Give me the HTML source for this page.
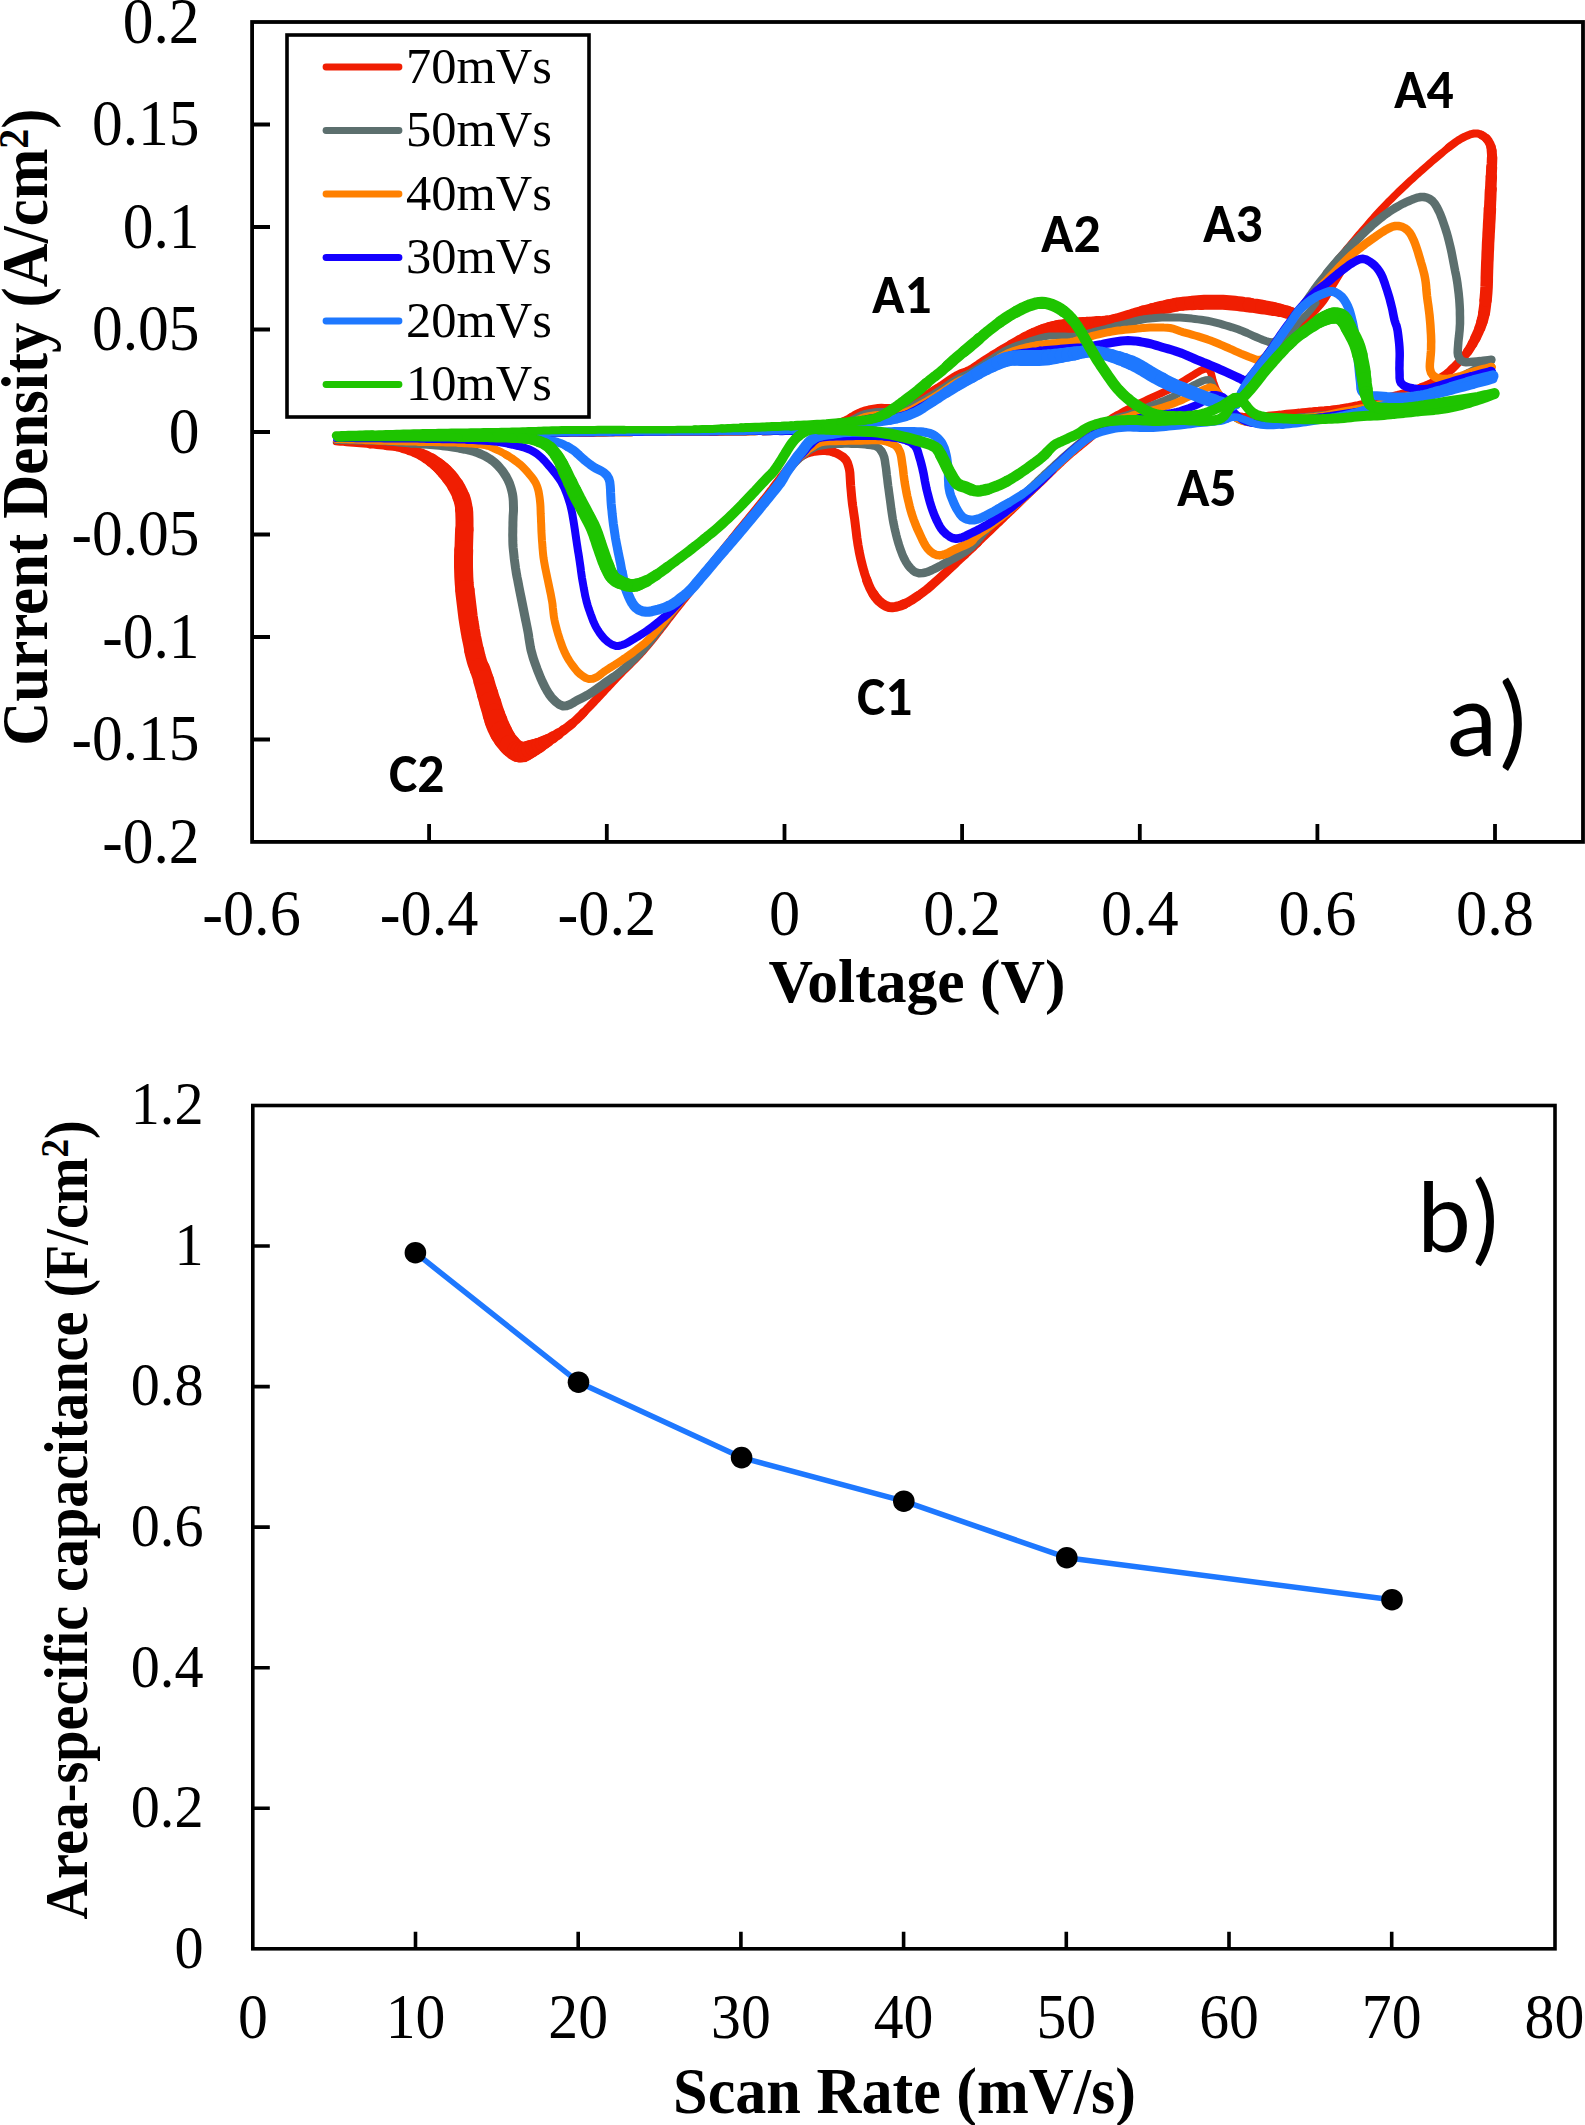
<!DOCTYPE html>
<html><head><meta charset="utf-8"><title>CV curves and capacitance</title>
<style>html,body{margin:0;padding:0;background:#fff;}svg{display:block;}</style>
</head><body>
<svg xmlns="http://www.w3.org/2000/svg" width="1585" height="2125" viewBox="0 0 1585 2125">
<rect width="1585" height="2125" fill="#fff"/>
<g fill="none" stroke-linecap="round" stroke-linejoin="round">
<path d="M336.0,440.0 L337.6,440.0 L339.4,439.9 L341.4,439.9 L343.6,439.8 L346.0,439.8 L348.5,439.7 L351.2,439.7 L354.0,439.6 L356.9,439.5 L360.0,439.5 L363.1,439.4 L366.3,439.3 L369.6,439.3 L373.0,439.2" stroke="#F01E02" stroke-width="6.0"/>
<path d="M373.0,439.2 L376.4,439.1 L379.9,439.0 L383.4,439.0 L386.9,438.9 L390.4,438.8 L393.8,438.7 L397.3,438.6 L400.7,438.5 L404.1,438.4 L407.5,438.4 L410.7,438.3 L413.9,438.2 L417.0,438.1 L420.0,438.0 L423.1,437.9 L426.1,437.8 L429.0,437.7 L431.8,437.6 L434.6,437.5 L437.3,437.3 L440.0,437.2 L442.6,437.1 L445.2,437.0 L447.9,436.9 L450.5,436.7 L453.2,436.6 L455.9,436.5" stroke="#F01E02" stroke-width="5.5"/>
<path d="M455.9,436.5 L458.6,436.3 L461.4,436.2 L464.3,436.1 L467.3,436.0 L470.4,435.8 L473.5,435.7 L476.8,435.6 L480.3,435.5 L483.9,435.4 L487.6,435.3 L491.6,435.2 L495.7,435.1 L500.0,435.0 L502.3,435.0 L504.7,434.9 L507.2,434.9 L509.8,434.8 L512.4,434.8 L515.1,434.7 L517.8,434.7 L520.6,434.7 L523.4,434.6 L526.3,434.6 L529.3,434.6 L532.2,434.5 L535.3,434.5 L538.3,434.4 L541.4,434.4 L544.6,434.4 L547.7,434.3 L550.9,434.3 L554.1,434.3 L557.4,434.3 L560.6,434.2 L563.9,434.2 L567.2,434.2 L570.5,434.1 L573.8,434.1 L577.1,434.1 L580.4,434.1 L583.7,434.0 L587.0,434.0 L590.2,434.0 L593.5,433.9 L596.8,433.9 L600.0,433.9 L603.3,433.9 L606.5,433.8 L609.7,433.8 L612.8,433.8 L615.9,433.8 L619.0,433.7 L622.1,433.7 L625.1,433.7 L628.1,433.7 L631.0,433.7 L633.9,433.6 L636.7,433.6 L639.5,433.6 L642.2,433.6 L644.9,433.5 L647.5,433.5 L650.0,433.5 L653.8,433.5 L657.5,433.4 L661.2,433.4 L664.8,433.4 L668.4,433.4 L671.9,433.4 L675.4,433.3 L678.8,433.3 L682.2,433.3 L685.6,433.3 L688.9,433.3 L692.1,433.3 L695.4,433.3 L698.5,433.3 L701.7,433.2 L704.7,433.2 L707.8,433.2 L710.7,433.2 L713.7,433.2 L716.6,433.2 L719.4,433.2 L722.2,433.2 L725.0,433.1 L727.7,433.1 L730.3,433.1 L733.0,433.1 L735.5,433.0 L738.1,433.0 L740.5,433.0 L743.0,432.9 L745.4,432.9 L747.7,432.9 L750.0,432.8 L754.5,432.7 L758.8,432.6 L762.8,432.4" stroke="#F01E02" stroke-width="5.0"/>
<path d="M762.8,432.4 L766.6,432.3 L770.2,432.2 L773.5,432.0 L776.7,431.8 L779.7,431.7" stroke="#F01E02" stroke-width="5.5"/>
<path d="M779.7,431.7 L782.5,431.5 L785.3,431.3 L787.9,431.1 L790.4,430.9 L792.9,430.7" stroke="#F01E02" stroke-width="6.0"/>
<path d="M792.9,430.7 L795.3,430.5 L797.7,430.2 L800.0,430.0 L804.4,429.5 L808.2,428.9 L811.5,428.2 L814.5,427.6" stroke="#F01E02" stroke-width="6.5"/>
<path d="M814.5,427.6 L817.2,426.9 L819.8,426.2 L822.4,425.6 L825.0,425.0 L828.4,424.3 L831.5,423.8 L834.4,423.3" stroke="#F01E02" stroke-width="7.0"/>
<path d="M834.4,423.3 L837.2,422.7 L840.0,422.0 L843.0,421.0 L845.7,419.9 L848.4,418.5 L851.2,417.0" stroke="#F01E02" stroke-width="7.5"/>
<path d="M851.2,417.0 L854.0,415.4 L856.8,413.9 L859.4,412.6 L862.0,411.5 L865.4,410.4 L868.8,409.5 L872.0,408.9 L875.0,408.4 L878.0,408.0 L881.4,407.8 L884.6,408.0 L887.7,408.1 L891.0,408.0 L893.9,407.6 L897.0,407.2 L900.0,406.6 L903.1,405.8 L906.0,405.0 L909.2,403.8 L912.2,402.5 L915.4,401.0 L919.0,399.0 L921.4,397.7 L924.0,396.1 L926.7,394.5 L929.5,392.8 L932.4,391.0 L935.2,389.2 L938.0,387.5 L940.8,385.7 L943.6,383.8 L946.5,381.8 L949.3,379.9 L952.0,378.1 L954.6,376.4 L957.0,375.0 L960.5,373.3 L963.5,372.2 L966.5,371.2 L970.0,369.5 L972.4,368.1 L975.0,366.4 L977.7,364.6 L980.5,362.6 L983.4,360.7 L986.2,358.8 L989.0,357.0 L991.7,355.3 L994.4,353.7 L997.1,352.1 L999.9,350.6" stroke="#F01E02" stroke-width="8.0"/>
<path d="M999.9,350.6 L1002.6,349.0 L1005.3,347.5 L1008.0,346.0 L1010.7,344.5" stroke="#F01E02" stroke-width="8.5"/>
<path d="M1010.7,344.5 L1013.4,343.0 L1016.1,341.5 L1018.9,340.0" stroke="#F01E02" stroke-width="9.0"/>
<path d="M1018.9,340.0 L1021.6,338.6 L1024.3,337.3" stroke="#F01E02" stroke-width="9.5"/>
<path d="M1024.3,337.3 L1027.0,336.0 L1030.2,334.6" stroke="#F01E02" stroke-width="10.0"/>
<path d="M1030.2,334.6 L1033.4,333.3" stroke="#F01E02" stroke-width="10.5"/>
<path d="M1033.4,333.3 L1036.7,332.0 L1039.9,330.9" stroke="#F01E02" stroke-width="11.0"/>
<path d="M1039.9,330.9 L1043.0,329.9" stroke="#F01E02" stroke-width="11.5"/>
<path d="M1043.0,329.9 L1046.0,329.0 L1049.4,328.2" stroke="#F01E02" stroke-width="12.0"/>
<path d="M1049.4,328.2 L1052.7,327.6" stroke="#F01E02" stroke-width="12.5"/>
<path d="M1052.7,327.6 L1055.8,327.2" stroke="#F01E02" stroke-width="13.0"/>
<path d="M1055.8,327.2 L1058.9,326.8" stroke="#F01E02" stroke-width="13.5"/>
<path d="M1058.9,326.8 L1062.0,326.5 L1065.0,326.2" stroke="#F01E02" stroke-width="14.0"/>
<path d="M1065.0,326.2 L1068.0,326.0" stroke="#F01E02" stroke-width="14.5"/>
<path d="M1068.0,326.0 L1071.0,325.9" stroke="#F01E02" stroke-width="15.0"/>
<path d="M1071.0,325.9 L1074.0,325.7" stroke="#F01E02" stroke-width="15.5"/>
<path d="M1074.0,325.7 L1077.0,325.5 L1080.1,325.2" stroke="#F01E02" stroke-width="16.0"/>
<path d="M1080.1,325.2 L1083.3,324.8" stroke="#F01E02" stroke-width="15.5"/>
<path d="M1083.3,324.8 L1086.6,324.3" stroke="#F01E02" stroke-width="15.0"/>
<path d="M1086.6,324.3 L1089.8,323.9" stroke="#F01E02" stroke-width="14.5"/>
<path d="M1089.8,323.9 L1093.0,323.5 L1096.2,323.1" stroke="#F01E02" stroke-width="14.0"/>
<path d="M1096.2,323.1 L1099.4,322.8" stroke="#F01E02" stroke-width="13.5"/>
<path d="M1099.4,322.8 L1102.6,322.5 L1105.8,322.1" stroke="#F01E02" stroke-width="13.0"/>
<path d="M1105.8,322.1 L1109.0,321.5 L1112.2,320.8 L1115.4,319.9" stroke="#F01E02" stroke-width="12.5"/>
<path d="M1115.4,319.9 L1118.7,318.9 L1121.9,317.9 L1125.0,317.0 L1128.1,316.1 L1131.1,315.2 L1134.0,314.2 L1137.0,313.3 L1140.0,312.5 L1143.0,311.7" stroke="#F01E02" stroke-width="12.0"/>
<path d="M1143.0,311.7 L1146.0,311.0 L1149.0,310.3 L1152.0,309.7" stroke="#F01E02" stroke-width="12.5"/>
<path d="M1152.0,309.7 L1155.0,309.0 L1158.1,308.4" stroke="#F01E02" stroke-width="13.0"/>
<path d="M1158.1,308.4 L1161.2,307.7 L1164.4,307.1 L1167.3,306.5" stroke="#F01E02" stroke-width="13.5"/>
<path d="M1167.3,306.5 L1170.0,306.0 L1173.5,305.2 L1176.5,304.6" stroke="#F01E02" stroke-width="14.0"/>
<path d="M1176.5,304.6 L1180.0,304.0 L1182.7,303.7" stroke="#F01E02" stroke-width="13.5"/>
<path d="M1182.7,303.7 L1185.6,303.4 L1188.7,303.2 L1191.9,303.0" stroke="#F01E02" stroke-width="14.0"/>
<path d="M1191.9,303.0 L1195.0,302.8 L1198.1,302.6 L1201.2,302.5" stroke="#F01E02" stroke-width="14.5"/>
<path d="M1201.2,302.5 L1204.3,302.3 L1207.5,302.3 L1210.6,302.2 L1213.7,302.2 L1216.8,302.2 L1219.9,302.3 L1222.9,302.3 L1226.0,302.5 L1229.0,302.7 L1232.0,303.0 L1235.0,303.3 L1238.0,303.6 L1241.0,304.0 L1244.0,304.4 L1247.0,304.7 L1250.0,305.1" stroke="#F01E02" stroke-width="15.0"/>
<path d="M1250.0,305.1 L1253.0,305.6 L1256.0,306.0 L1259.0,306.5 L1262.1,307.0" stroke="#F01E02" stroke-width="14.5"/>
<path d="M1262.1,307.0 L1265.2,307.5 L1268.2,308.0 L1271.0,308.5 L1274.2,309.1" stroke="#F01E02" stroke-width="14.0"/>
<path d="M1274.2,309.1 L1277.2,309.7 L1280.1,310.3" stroke="#F01E02" stroke-width="13.5"/>
<path d="M1280.1,310.3 L1283.0,311.0 L1287.1,312.1" stroke="#F01E02" stroke-width="13.0"/>
<path d="M1287.1,312.1 L1291.2,313.2" stroke="#F01E02" stroke-width="12.5"/>
<path d="M1291.2,313.2 L1294.0,314.0" stroke="#F01E02" stroke-width="12.0"/>
<path d="M1252.0,388.0 C1255.0,383.7 1263.7,370.3 1270.0,362.0 C1276.3,353.7 1284.5,344.5 1290.0,338.0 C1295.5,331.5 1299.2,327.3 1303.0,323.0 C1306.8,318.7 1309.7,315.8 1313.0,312.0 C1316.3,308.2 1320.0,304.7 1323.0,300.5 C1326.0,296.3 1328.2,291.8 1331.0,287.0 C1333.8,282.2 1337.2,276.5 1340.0,272.0 C1342.8,267.5 1346.7,262.0 1348.0,260.0" stroke="#F01E02" stroke-width="9"/>
<path d="M1270.0,360.0 C1272.0,357.3 1278.2,349.0 1282.0,344.0 C1285.8,339.0 1289.8,333.8 1292.8,330.0 C1295.8,326.2 1297.5,323.8 1300.0,321.0 C1302.5,318.2 1305.3,316.0 1308.0,313.0 C1310.7,310.0 1314.7,304.7 1316.0,303.0" stroke="#5C6F6E" stroke-width="7"/>
<path d="M336.0,442.0 L337.9,442.2 L340.3,442.4 L343.3,442.6 L346.6,442.9 L350.0,443.2 L353.5,443.5 L356.9,443.7 L360.0,444.0 L363.4,444.3 L366.8,444.6 L370.2,444.9" stroke="#F01E02" stroke-width="6.5"/>
<path d="M370.2,444.9 L373.6,445.1 L376.9,445.4 L380.0,445.7 L383.0,446.0 L386.8,446.4" stroke="#F01E02" stroke-width="7.0"/>
<path d="M386.8,446.4 L390.2,446.7 L393.4,447.0 L396.6,447.4" stroke="#F01E02" stroke-width="7.5"/>
<path d="M396.6,447.4 L400.0,448.0 L403.0,448.6" stroke="#F01E02" stroke-width="8.0"/>
<path d="M403.0,448.6 L406.0,449.3 L409.1,450.1" stroke="#F01E02" stroke-width="9.0"/>
<path d="M409.1,450.1 L412.1,450.9 L415.1,451.9" stroke="#F01E02" stroke-width="10.0"/>
<path d="M415.1,451.9 L418.0,453.0 L420.8,454.2" stroke="#F01E02" stroke-width="11.0"/>
<path d="M420.8,454.2 L423.6,455.6 L426.3,457.1" stroke="#F01E02" stroke-width="12.0"/>
<path d="M426.3,457.1 L429.0,458.6 L431.5,460.3" stroke="#F01E02" stroke-width="13.0"/>
<path d="M431.5,460.3 L434.0,462.0 L436.8,464.2" stroke="#F01E02" stroke-width="14.0"/>
<path d="M436.8,464.2 L439.6,466.5" stroke="#F01E02" stroke-width="14.5"/>
<path d="M439.6,466.5 L442.2,468.9" stroke="#F01E02" stroke-width="15.0"/>
<path d="M442.2,468.9 L444.6,471.4" stroke="#F01E02" stroke-width="15.5"/>
<path d="M444.6,471.4 L447.0,474.0 L449.3,476.7" stroke="#F01E02" stroke-width="16.0"/>
<path d="M449.3,476.7 L451.4,479.4 L453.4,482.2 L455.3,485.1" stroke="#F01E02" stroke-width="16.5"/>
<path d="M455.3,485.1 L457.0,488.0 L458.5,490.9 L459.9,493.8 L461.1,496.8" stroke="#F01E02" stroke-width="17.0"/>
<path d="M461.1,496.8 L462.2,499.9 L463.0,503.0 L463.6,506.2 L464.0,509.5" stroke="#F01E02" stroke-width="17.5"/>
<path d="M464.0,509.5 L464.3,512.9 L464.4,516.4 L464.5,520.0 L464.5,523.2 L464.5,526.4 L464.4,529.8" stroke="#F01E02" stroke-width="18.0"/>
<path d="M464.4,529.8 L464.2,533.2 L464.1,536.6 L464.0,540.0 L463.9,543.3 L463.8,546.7 L463.7,550.0" stroke="#F01E02" stroke-width="18.5"/>
<path d="M463.7,550.0 L463.6,553.3 L463.5,556.7 L463.5,560.0 L463.5,563.3 L463.5,566.7 L463.6,570.0 L463.7,573.3 L463.8,576.7 L464.0,580.0 L464.2,583.3 L464.5,586.7 L464.9,590.0" stroke="#F01E02" stroke-width="19.0"/>
<path d="M464.9,590.0 L465.2,593.3 L465.6,596.7 L466.0,600.0 L466.4,603.3 L466.8,606.7 L467.2,610.0 L467.6,613.3 L468.0,616.7 L468.5,620.0 L469.0,623.3 L469.6,626.7 L470.1,630.0 L470.7,633.3 L471.3,636.7 L472.0,640.0 L472.7,643.4 L473.4,646.9 L474.1,650.3" stroke="#F01E02" stroke-width="19.5"/>
<path d="M474.1,650.3 L474.9,653.7 L475.7,657.0 L476.5,660.0 L477.5,663.2 L478.5,665.9 L479.6,668.5" stroke="#F01E02" stroke-width="20.0"/>
<path d="M479.6,668.5 L480.8,671.4 L482.0,675.0 L482.8,677.6 L483.7,680.5" stroke="#F01E02" stroke-width="20.5"/>
<path d="M483.7,680.5 L484.6,683.6 L485.5,686.8 L486.5,690.1 L487.4,693.4" stroke="#F01E02" stroke-width="21.0"/>
<path d="M487.4,693.4 L488.4,696.8 L489.4,700.0 L490.3,702.9" stroke="#F01E02" stroke-width="21.5"/>
<path d="M490.3,702.9 L491.2,705.9 L492.1,708.9 L493.1,712.0 L494.0,715.0" stroke="#F01E02" stroke-width="22.0"/>
<path d="M494.0,715.0 L495.0,718.0 L496.0,720.8" stroke="#F01E02" stroke-width="22.5"/>
<path d="M496.0,720.8 L497.0,723.5 L498.0,726.0 L499.6,729.4 L501.2,732.6" stroke="#F01E02" stroke-width="23.0"/>
<path d="M501.2,732.6 L502.8,735.6 L504.5,738.3" stroke="#F01E02" stroke-width="22.5"/>
<path d="M504.5,738.3 L506.2,740.7 L508.0,743.0 L510.3,745.5" stroke="#F01E02" stroke-width="22.0"/>
<path d="M510.3,745.5 L512.6,747.8 L515.0,749.7 L517.5,751.2" stroke="#F01E02" stroke-width="21.5"/>
<path d="M517.5,751.2 L520.0,752.0" stroke="#F01E02" stroke-width="21.0"/>
<path d="M520.0,752.0 L523.2,752.0" stroke="#F01E02" stroke-width="20.5"/>
<path d="M523.2,752.0 L526.5,750.9" stroke="#F01E02" stroke-width="19.5"/>
<path d="M526.5,750.9 L529.8,749.4" stroke="#F01E02" stroke-width="18.5"/>
<path d="M529.8,749.4 L533.0,748.0" stroke="#F01E02" stroke-width="17.5"/>
<path d="M533.0,748.0 L536.0,746.7" stroke="#F01E02" stroke-width="16.5"/>
<path d="M536.0,746.7 L538.8,745.4" stroke="#F01E02" stroke-width="15.5"/>
<path d="M538.8,745.4 L541.7,743.8" stroke="#F01E02" stroke-width="14.5"/>
<path d="M541.7,743.8 L545.0,742.0" stroke="#F01E02" stroke-width="13.5"/>
<path d="M545.0,742.0 L547.5,740.6" stroke="#F01E02" stroke-width="13.0"/>
<path d="M547.5,740.6 L550.1,739.0 L552.9,737.3" stroke="#F01E02" stroke-width="12.0"/>
<path d="M552.9,737.3 L555.7,735.6 L558.4,733.8" stroke="#F01E02" stroke-width="11.0"/>
<path d="M558.4,733.8 L561.0,732.0 L563.9,729.9" stroke="#F01E02" stroke-width="10.0"/>
<path d="M563.9,729.9 L566.7,727.9 L569.4,725.7 L572.2,723.5" stroke="#F01E02" stroke-width="9.5"/>
<path d="M572.2,723.5 L575.0,721.0 L577.1,719.1 L579.2,717.0 L581.4,714.9 L583.5,712.7" stroke="#F01E02" stroke-width="9.0"/>
<path d="M583.5,712.7 L585.7,710.5 L587.8,708.2 L590.0,706.0 L592.1,703.8 L594.3,701.5 L596.4,699.2 L598.6,696.9 L600.7,694.6 L602.9,692.3 L605.0,690.0 L607.1,687.7 L609.3,685.4 L611.4,683.1 L613.5,680.9 L615.6,678.6 L617.8,676.3 L620.0,674.0 L622.2,671.7 L624.5,669.5 L626.8,667.2 L629.2,664.9 L631.5,662.6 L633.8,660.3 L636.0,658.0 L638.1,655.8 L640.1,653.7 L642.0,651.6 L643.9,649.4 L646.0,647.0 L648.3,644.2 L651.0,641.0 L652.6,639.0 L654.2,637.0 L656.0,634.8 L657.8,632.4 L659.7,630.0 L661.6,627.5 L663.6,625.0 L665.6,622.4 L667.6,619.7 L669.7,617.1 L671.8,614.4 L673.9,611.7 L676.0,609.0 L677.7,606.8 L679.5,604.6 L681.3,602.3 L683.1,600.0 L685.0,597.7 L686.9,595.3 L688.8,593.0 L690.7,590.6 L692.6,588.2 L694.5,585.8 L696.5,583.4 L698.4,581.0 L700.3,578.6 L702.2,576.2 L704.1,573.9 L706.0,571.5 L707.9,569.2 L709.8,566.8 L711.6,564.5 L713.5,562.1 L715.4,559.8 L717.2,557.4 L719.1,555.1 L721.0,552.7 L722.9,550.4 L724.8,548.0 L726.6,545.7 L728.5,543.3 L730.4,541.0 L732.2,538.7 L734.1,536.3 L736.0,534.0 L738.0,531.5 L740.0,529.0 L742.1,526.5 L744.2,523.9 L746.2,521.4 L748.3,518.9 L750.3,516.4 L752.4,513.8 L754.4,511.3 L756.4,508.9 L758.4,506.4 L760.4,504.0 L762.3,501.6 L764.2,499.3 L766.0,497.0 L768.1,494.4 L770.1,491.7 L772.2,489.0 L774.2,486.3 L776.2,483.7 L778.2,481.1 L780.1,478.6 L781.9,476.1 L783.7,473.8 L785.4,471.6 L787.0,469.6 L788.6,467.7 L790.0,466.0 L793.2,462.6 L795.8,460.2 L798.0,458.5 L800.0,457.2 L802.0,456.0 L805.3,454.3" stroke="#F01E02" stroke-width="8.5"/>
<path d="M805.3,454.3 L808.2,453.3 L811.0,452.5 L814.9,451.7 L819.0,451.3 L822.5,451.1 L826.4,451.0" stroke="#F01E02" stroke-width="8.0"/>
<path d="M826.4,451.0 L830.0,451.3 L833.2,452.0" stroke="#F01E02" stroke-width="8.5"/>
<path d="M833.2,452.0 L836.2,453.1 L839.0,454.5 L842.8,456.8 L846.0,460.0 L847.5,462.9 L848.6,466.3 L849.5,470.0 L849.9,472.9 L850.1,476.1 L850.3,479.4 L850.5,483.0 L850.7,486.1 L851.0,489.3 L851.3,492.6 L851.6,496.2 L852.0,500.0 L852.3,502.9 L852.7,505.9 L853.2,509.0 L853.6,512.2 L854.1,515.5 L854.6,518.8 L855.0,522.0 L855.4,525.2 L855.8,528.5 L856.2,531.8 L856.6,535.1 L857.0,538.4 L857.5,541.7 L858.0,545.0 L858.6,548.3 L859.2,551.7 L859.9,555.0 L860.6,558.4 L861.4,561.6 L862.2,564.9 L863.0,568.0 L863.9,571.1 L864.8,574.1 L865.8,577.1 L866.8,580.1" stroke="#F01E02" stroke-width="9.0"/>
<path d="M866.8,580.1 L867.8,582.9 L868.9,585.5 L870.0,588.0 L871.7,591.2 L873.4,594.0" stroke="#F01E02" stroke-width="9.5"/>
<path d="M873.4,594.0 L875.2,596.6 L877.1,599.0 L879.0,601.0 L882.3,603.8 L885.6,605.8 L889.0,607.0 L892.3,607.3 L895.6,606.9 L899.0,606.0 L901.6,605.2 L904.1,604.1" stroke="#F01E02" stroke-width="10.0"/>
<path d="M904.1,604.1 L906.9,602.8 L910.0,601.0 L912.4,599.6 L914.9,597.9 L917.6,596.1" stroke="#F01E02" stroke-width="9.5"/>
<path d="M917.6,596.1 L920.4,594.2 L923.2,592.1 L926.0,590.0 L928.4,588.1 L930.8,586.0 L933.2,583.9 L935.7,581.7 L938.1,579.5 L940.6,577.2 L943.0,575.0 L945.5,572.7 L948.1,570.3 L950.7,567.8 L953.2,565.4 L955.7,563.1 L957.9,560.9 L960.0,559.0 L962.8,556.5 L964.8,554.7" stroke="#F01E02" stroke-width="9.0"/>
<path d="M964.8,554.7 L967.0,552.8 L970.0,550.0 L971.8,548.4 L973.7,546.6 L975.7,544.6 L977.9,542.6" stroke="#F01E02" stroke-width="8.5"/>
<path d="M977.9,542.6 L980.2,540.4 L982.5,538.1 L985.0,535.8 L987.5,533.4 L990.0,531.0 L992.0,529.1 L994.0,527.2 L996.1,525.1 L998.3,523.1 L1000.5,521.0 L1002.7,518.8 L1004.9,516.6 L1007.2,514.5 L1009.4,512.3 L1011.7,510.2 L1013.8,508.1 L1016.0,506.0 L1018.3,503.8 L1020.6,501.6 L1022.9,499.4 L1025.2,497.2 L1027.4,495.0 L1029.7,492.9 L1032.0,490.7 L1034.2,488.5 L1036.5,486.4 L1038.7,484.2 L1041.0,482.0 L1043.3,479.8 L1045.5,477.6 L1047.8,475.4 L1050.1,473.1 L1052.4,470.9 L1054.6,468.7 L1056.9,466.5 L1059.2,464.3 L1061.5,462.2 L1063.7,460.1 L1066.0,458.0 L1068.5,455.8 L1071.1,453.5 L1073.7,451.4 L1076.3,449.2 L1078.9,447.1 L1081.5,445.0 L1084.0,442.9 L1086.4,440.9 L1088.8,438.9 L1091.0,437.0 L1093.6,434.6 L1096.2,432.2 L1098.6,429.9 L1100.9,427.6" stroke="#F01E02" stroke-width="8.0"/>
<path d="M1100.9,427.6 L1103.1,425.4 L1105.2,423.4 L1107.1,421.6 L1109.0,420.0 L1112.2,417.7 L1114.8,416.2 L1117.2,414.9 L1120.0,413.5 L1122.5,412.1 L1125.1,410.6 L1127.9,409.2 L1130.8,407.6 L1134.0,406.0 L1136.5,404.8 L1139.1,403.5 L1141.9,402.2 L1144.7,400.9 L1147.6,399.5 L1150.3,398.2 L1153.0,397.0 L1155.9,395.7 L1158.7,394.4 L1161.4,393.2 L1164.2,391.9 L1167.0,390.6 L1170.0,389.0 L1172.8,387.5 L1175.7,385.7 L1178.8,383.9 L1181.8,382.0 L1184.8,380.2 L1187.5,378.5 L1190.0,377.0 L1193.7,374.8 L1196.9,372.8 L1199.6,371.2 L1202.0,370.0 L1205.3,368.5 L1207.5,368.5 L1209.5,370.2 L1211.0,373.0 L1212.0,376.7 L1213.0,381.0 L1214.1,384.2 L1215.4,387.6 L1217.0,391.0 L1218.8,394.3 L1220.9,397.7 L1223.0,401.0 L1224.6,403.6 L1226.2,406.3 L1228.0,408.9 L1230.0,411.0 L1232.9,413.2" stroke="#F01E02" stroke-width="7.5"/>
<path d="M1232.9,413.2 L1236.2,414.9 L1240.0,416.0 L1242.7,416.3 L1245.6,416.4 L1248.7,416.3 L1251.9,416.1 L1255.0,416.0 L1258.1,415.9 L1261.2,415.7 L1264.3,415.5 L1267.6,415.3 L1271.0,415.0 L1274.0,414.7 L1277.1,414.4 L1280.2,414.1 L1283.5,413.7 L1286.7,413.3 L1290.0,413.0 L1293.2,412.7 L1296.2,412.4 L1299.3,412.1 L1302.6,411.7 L1306.1,411.4 L1310.0,411.0 L1312.6,410.8 L1315.4,410.5 L1318.3,410.3 L1321.3,410.0 L1324.4,409.8 L1327.5,409.5 L1330.7,409.2 L1333.8,408.8 L1337.0,408.4 L1340.0,408.0 L1343.0,407.5 L1346.0,407.0 L1349.0,406.5 L1352.0,405.9 L1355.0,405.3 L1358.0,404.7 L1361.0,404.0 L1364.0,403.4 L1367.0,402.7 L1370.0,402.0 L1373.1,401.3 L1376.2,400.5 L1379.4,399.7 L1382.7,398.8 L1385.9,397.9" stroke="#F01E02" stroke-width="7.0"/>
<path d="M1385.9,397.9 L1389.0,397.1 L1392.0,396.2 L1394.9,395.4 L1397.6,394.7 L1400.0,394.0 L1404.1,392.8 L1407.5,391.8 L1410.3,390.9 L1413.1,390.0 L1416.0,389.0 L1419.1,387.9 L1422.1,386.8" stroke="#F01E02" stroke-width="7.5"/>
<path d="M1422.1,386.8 L1425.0,385.7 L1428.0,384.4 L1431.0,383.0 L1434.1,381.4 L1437.2,379.6 L1440.4,377.7 L1443.3,375.8 L1446.0,374.0 L1448.9,371.8 L1451.3,369.6" stroke="#F01E02" stroke-width="8.0"/>
<path d="M1451.3,369.6 L1453.6,367.4 L1456.0,365.0 L1458.5,362.4 L1461.1,359.8" stroke="#F01E02" stroke-width="8.5"/>
<path d="M1461.1,359.8 L1463.6,356.9 L1466.0,354.0 L1467.7,351.6" stroke="#F01E02" stroke-width="9.0"/>
<path d="M1467.7,351.6 L1469.4,349.1 L1471.0,346.5 L1472.5,343.8" stroke="#F01E02" stroke-width="9.5"/>
<path d="M1472.5,343.8 L1474.0,341.0 L1475.5,338.0" stroke="#F01E02" stroke-width="10.0"/>
<path d="M1475.5,338.0 L1477.0,334.8 L1478.5,331.5 L1479.8,328.2" stroke="#F01E02" stroke-width="10.5"/>
<path d="M1479.8,328.2 L1481.0,325.0 L1481.9,322.0" stroke="#F01E02" stroke-width="11.0"/>
<path d="M1481.9,322.0 L1482.7,319.2 L1483.4,316.3 L1484.0,313.3" stroke="#F01E02" stroke-width="11.5"/>
<path d="M1484.0,313.3 L1484.5,310.0 L1484.9,306.9 L1485.3,303.7 L1485.6,300.2" stroke="#F01E02" stroke-width="12.0"/>
<path d="M1485.6,300.2 L1485.9,296.8 L1486.2,293.3 L1486.4,290.0 L1486.6,286.8 L1486.7,283.8 L1486.8,280.8 L1486.8,277.7 L1486.9,274.5 L1487.0,271.0 L1487.1,268.2 L1487.2,265.2 L1487.3,262.1 L1487.5,258.9 L1487.6,255.6 L1487.7,252.4 L1487.9,249.2 L1488.0,246.0 L1488.1,242.9 L1488.3,239.8 L1488.5,236.6 L1488.6,233.5 L1488.8,230.4 L1489.0,227.2 L1489.1,224.1 L1489.3,221.0 L1489.5,217.9 L1489.6,214.8 L1489.8,211.6 L1489.9,208.5" stroke="#F01E02" stroke-width="12.5"/>
<path d="M1489.9,208.5 L1490.1,205.4 L1490.2,202.2 L1490.4,199.1 L1490.5,196.0 L1490.6,192.8 L1490.8,189.5" stroke="#F01E02" stroke-width="12.0"/>
<path d="M1490.8,189.5 L1490.9,186.2 L1491.0,182.9 L1491.2,179.7 L1491.3,176.6" stroke="#F01E02" stroke-width="11.5"/>
<path d="M1491.3,176.6 L1491.4,173.7 L1491.5,171.0 L1491.7,167.1" stroke="#F01E02" stroke-width="11.0"/>
<path d="M1491.7,167.1 L1491.9,163.7 L1492.0,160.6 L1492.1,157.7" stroke="#F01E02" stroke-width="10.5"/>
<path d="M1492.1,157.7 L1492.0,155.0 L1491.7,150.8" stroke="#F01E02" stroke-width="10.0"/>
<path d="M1491.7,150.8 L1491.1,147.2" stroke="#F01E02" stroke-width="9.5"/>
<path d="M1491.1,147.2 L1490.0,144.0 L1488.4,141.1 L1486.4,138.5" stroke="#F01E02" stroke-width="9.0"/>
<path d="M1486.4,138.5 L1484.0,136.5 L1481.2,134.8" stroke="#F01E02" stroke-width="8.5"/>
<path d="M1481.2,134.8 L1477.9,133.6 L1474.0,133.5 L1471.2,134.1 L1468.2,135.2 L1464.9,136.6 L1461.5,138.4 L1458.0,140.5 L1455.8,142.0 L1453.5,143.7 L1451.1,145.5 L1448.7,147.4" stroke="#F01E02" stroke-width="8.0"/>
<path d="M1448.7,147.4 L1446.3,149.4 L1443.8,151.5 L1441.4,153.5 L1439.0,155.5 L1436.6,157.5 L1434.2,159.5 L1431.9,161.5 L1429.5,163.6 L1427.1,165.7 L1424.8,167.8 L1422.4,169.9 L1420.0,172.0 L1417.6,174.1 L1415.2,176.3 L1412.9,178.4 L1410.5,180.6 L1408.1,182.8 L1405.8,185.0 L1403.4,187.2 L1401.0,189.5 L1398.6,191.8 L1396.2,194.1 L1393.9,196.4 L1391.5,198.8 L1389.1,201.1 L1386.8,203.5 L1384.4,206.0 L1382.0,208.5 L1379.9,210.8 L1377.8,213.1 L1375.7,215.4 L1373.6,217.8 L1371.4,220.2 L1369.3,222.7 L1367.2,225.1 L1365.1,227.6 L1363.0,230.0 L1360.9,232.5 L1358.6,235.1 L1356.4,237.7 L1354.2,240.4 L1352.0,243.0 L1349.8,245.6 L1347.8,248.0 L1345.8,250.3 L1344.0,252.5 L1341.6,255.4 L1339.4,257.9 L1337.4,260.3 L1335.6,262.5 L1333.8,264.7 L1332.0,267.0 L1329.7,270.1 L1327.4,273.3 L1325.2,276.4 L1323.3,279.1 L1322.0,281.0" stroke="#F01E02" stroke-width="7.5"/>
<path d="M336.0,439.5 L337.6,439.5 L339.4,439.4 L341.4,439.4 L343.6,439.3 L346.0,439.3 L348.5,439.2 L351.2,439.2 L354.0,439.1 L356.9,439.0 L360.0,439.0 L363.1,438.9 L366.3,438.8 L369.6,438.7 L373.0,438.7" stroke="#5C6F6E" stroke-width="6.0"/>
<path d="M373.0,438.7 L376.4,438.6 L379.9,438.5 L383.4,438.4 L386.9,438.3 L390.4,438.2 L393.8,438.2 L397.3,438.1 L400.7,438.0 L404.1,437.9 L407.5,437.8 L410.7,437.7 L413.9,437.7 L417.0,437.6 L420.0,437.5 L423.1,437.4 L426.1,437.3 L429.0,437.2 L431.8,437.1 L434.6,437.0 L437.3,436.9 L440.0,436.8 L442.6,436.7 L445.2,436.6 L447.9,436.5 L450.5,436.4 L453.2,436.3 L455.9,436.2" stroke="#5C6F6E" stroke-width="5.5"/>
<path d="M455.9,436.2 L458.6,436.1 L461.4,436.0 L464.3,435.9 L467.3,435.8 L470.4,435.7 L473.5,435.6 L476.8,435.5 L480.3,435.4 L483.9,435.3 L487.6,435.2 L491.6,435.2 L495.7,435.1 L500.0,435.0 L502.3,435.0 L504.7,434.9 L507.2,434.9 L509.8,434.8 L512.4,434.8 L515.1,434.8 L517.8,434.7 L520.6,434.7 L523.4,434.7 L526.3,434.6 L529.3,434.6 L532.2,434.6 L535.3,434.5 L538.3,434.5 L541.4,434.5 L544.6,434.4 L547.7,434.4 L550.9,434.4 L554.1,434.3 L557.4,434.3 L560.6,434.3 L563.9,434.2 L567.2,434.2 L570.5,434.2 L573.8,434.1 L577.1,434.1 L580.4,434.1 L583.7,434.1 L587.0,434.0 L590.2,434.0 L593.5,434.0 L596.8,433.9 L600.0,433.9 L603.3,433.9 L606.5,433.9 L609.7,433.8 L612.8,433.8 L615.9,433.8 L619.0,433.8 L622.1,433.7 L625.1,433.7 L628.1,433.7 L631.0,433.7 L633.9,433.6 L636.7,433.6 L639.5,433.6 L642.2,433.6 L644.9,433.5 L647.5,433.5 L650.0,433.5 L653.8,433.5 L657.5,433.4 L661.2,433.4 L664.8,433.4 L668.4,433.4 L671.9,433.3 L675.4,433.3 L678.8,433.3 L682.2,433.3 L685.6,433.3 L688.9,433.3 L692.1,433.3 L695.4,433.2 L698.5,433.2 L701.7,433.2 L704.7,433.2 L707.8,433.2 L710.7,433.2 L713.7,433.2 L716.6,433.2 L719.4,433.1 L722.2,433.1 L725.0,433.1 L727.7,433.1 L730.3,433.1 L733.0,433.0 L735.5,433.0 L738.1,433.0 L740.5,433.0 L743.0,432.9 L745.4,432.9 L747.7,432.8 L750.0,432.8 L754.5,432.7 L758.8,432.6 L762.8,432.5" stroke="#5C6F6E" stroke-width="5.0"/>
<path d="M762.8,432.5 L766.6,432.4 L770.2,432.3 L773.5,432.2 L776.7,432.0 L779.7,431.9" stroke="#5C6F6E" stroke-width="5.5"/>
<path d="M779.7,431.9 L782.5,431.7 L785.3,431.6 L787.9,431.4 L790.4,431.3 L792.9,431.1" stroke="#5C6F6E" stroke-width="6.0"/>
<path d="M792.9,431.1 L795.3,430.9 L797.7,430.7 L800.0,430.5 L804.4,430.0 L808.2,429.5 L811.5,428.9 L814.5,428.2" stroke="#5C6F6E" stroke-width="6.5"/>
<path d="M814.5,428.2 L817.2,427.6 L819.8,427.0 L822.4,426.5 L825.0,426.0 L828.4,425.6 L831.5,425.4 L834.4,425.3 L837.2,425.1 L840.0,424.7 L843.0,424.0 L845.7,423.0 L848.4,421.6 L851.2,420.1 L854.0,418.5 L856.8,417.0 L859.4,415.6 L862.0,414.5 L865.4,413.4 L868.8,412.7 L872.0,412.2 L875.0,411.8 L878.0,411.5 L881.4,411.4 L884.6,411.5 L887.7,411.6 L891.0,411.5 L893.9,411.1 L897.0,410.7 L900.0,410.1 L903.1,409.4 L906.0,408.5 L909.2,407.2 L912.2,405.8 L915.4,404.0 L919.0,402.0 L921.4,400.7 L924.0,399.2 L926.7,397.7 L929.5,396.1 L932.4,394.4 L935.2,392.7 L938.0,391.0 L940.8,389.2 L943.6,387.3 L946.5,385.4 L949.3,383.5 L952.0,381.6 L954.6,380.0 L957.0,378.5 L960.5,376.7 L963.5,375.5 L966.5,374.3 L970.0,372.5 L972.4,371.1 L975.0,369.5 L977.7,367.8 L980.5,365.9 L983.4,364.1 L986.2,362.2 L989.0,360.5 L991.7,358.8 L994.4,357.0 L997.1,355.3 L999.9,353.6 L1002.6,351.9 L1005.3,350.4 L1008.0,349.0 L1011.2,347.6 L1014.3,346.3 L1017.5,345.1 L1020.7,344.1 L1023.8,343.0 L1027.0,342.0 L1030.2,340.9 L1033.4,339.9 L1036.7,338.8 L1039.9,337.9 L1043.0,337.1 L1046.0,336.5 L1049.4,336.1 L1052.7,335.9 L1055.8,335.9 L1058.9,336.0 L1062.0,336.0 L1065.0,336.0 L1068.0,336.2 L1071.0,336.3 L1074.0,336.2 L1077.0,336.0 L1080.1,335.5 L1083.3,334.7 L1086.6,333.8" stroke="#5C6F6E" stroke-width="7.0"/>
<path d="M1086.6,333.8 L1089.8,332.9 L1093.0,332.0 L1096.2,331.2 L1099.4,330.4 L1102.6,329.6 L1105.8,328.8 L1109.0,328.0 L1112.2,327.2 L1115.4,326.4" stroke="#5C6F6E" stroke-width="7.5"/>
<path d="M1115.4,326.4 L1118.7,325.6 L1121.9,324.8 L1125.0,324.0 L1128.1,323.2 L1131.3,322.3 L1134.4,321.4 L1137.3,320.6 L1140.0,320.0 L1143.5,319.3 L1146.5,318.9 L1150.0,318.5 L1152.7,318.3 L1155.6,318.0 L1158.8,317.8 L1161.9,317.6 L1165.0,317.5 L1168.0,317.4 L1171.0,317.4 L1174.0,317.4 L1177.0,317.5 L1180.0,317.6 L1183.0,317.8 L1186.0,318.0 L1189.0,318.3 L1192.0,318.6 L1195.0,319.0 L1198.1,319.4 L1201.2,319.8 L1204.3,320.3 L1207.5,320.8 L1210.6,321.4 L1213.7,322.1 L1216.8,322.9 L1219.9,323.7 L1222.9,324.6 L1226.0,325.5 L1229.0,326.4 L1232.0,327.3 L1235.0,328.3 L1238.0,329.3 L1241.0,330.4 L1244.1,331.7 L1247.2,333.0 L1250.4,334.5 L1253.3,335.8 L1256.0,337.0 L1259.8,338.6 L1263.1,340.0 L1266.0,341.0 L1269.6,342.1" stroke="#5C6F6E" stroke-width="8.0"/>
<path d="M1269.6,342.1 L1273.0,342.0 L1275.5,340.8 L1278.1,338.8 L1281.0,336.0 L1282.9,333.8 L1284.9,331.1 L1287.0,328.2 L1289.0,325.3 L1291.0,322.5 L1292.8,319.9 L1294.6,317.3 L1296.4,314.8 L1298.2,312.2 L1300.0,309.5 L1302.0,306.7 L1304.0,303.7 L1306.0,300.7 L1308.0,297.8 L1310.0,295.0 L1311.7,292.5 L1313.2,290.4 L1314.7,288.2 L1316.6,285.6 L1319.0,282.5 L1320.7,280.4 L1322.6,278.0 L1324.6,275.5 L1326.8,272.8" stroke="#5C6F6E" stroke-width="7.5"/>
<path d="M1326.8,272.8 L1329.0,270.1 L1331.3,267.3 L1333.6,264.6 L1335.8,262.0 L1338.0,259.5 L1340.1,257.2 L1342.2,254.9 L1344.3,252.7 L1346.4,250.5 L1348.4,248.4" stroke="#5C6F6E" stroke-width="8.0"/>
<path d="M1348.4,248.4 L1350.5,246.2 L1352.6,244.2 L1354.7,242.1 L1356.8,240.0 L1359.2,237.7 L1361.5,235.3 L1363.9,233.0 L1366.2,230.8 L1368.6,228.5 L1371.0,226.3 L1373.3,224.2 L1375.7,222.2 L1378.4,220.0 L1381.1,217.8 L1383.8,215.7 L1386.5,213.7 L1389.2,211.8 L1391.9,210.0 L1394.6,208.3 L1397.4,206.7 L1400.3,205.1 L1403.2,203.6 L1406.1,202.2 L1408.8,201.0 L1411.4,199.9 L1413.6,199.0 L1417.7,197.6 L1420.8,197.0 L1423.7,197.0 L1426.8,197.7 L1429.8,199.0 L1432.5,201.0 L1434.8,203.7 L1436.8,207.0 L1438.8,211.0 L1440.1,213.8 L1441.3,216.9 L1442.6,220.3 L1443.8,223.8 L1445.0,227.3 L1445.9,230.3 L1446.9,233.4 L1447.8,236.6 L1448.6,239.8 L1449.4,243.0 L1450.2,246.2 L1450.9,249.3 L1451.6,252.5 L1452.2,255.6 L1452.8,258.7 L1453.4,261.9 L1454.0,265.0 L1454.6,268.2 L1455.2,271.3 L1455.9,274.5 L1456.5,277.7 L1457.0,280.8 L1457.5,284.0 L1457.9,287.2 L1458.3,290.4 L1458.7,293.6 L1459.0,296.8 L1459.3,299.9 L1459.5,303.0 L1459.7,306.6 L1459.9,310.3 L1459.9,313.8 L1460.0,317.1 L1460.0,320.0 L1460.0,323.8 L1459.8,326.8 L1459.6,330.4 L1459.3,333.2 L1459.0,336.3 L1458.6,339.6 L1458.3,342.7 L1458.1,345.5 L1457.8,349.4 L1457.7,352.7 L1458.1,355.6 L1460.0,359.3 L1463.2,361.7 L1466.2,362.2 L1469.8,362.0 L1473.3,361.7 L1476.7,361.4 L1480.1,361.1 L1483.3,360.7 L1488.0,360.1 L1491.4,359.7" stroke="#5C6F6E" stroke-width="8.5"/>
<path d="M336.0,441.0 L337.8,441.0 L340.1,441.1 L342.9,441.1 L345.9,441.2 L349.2,441.3 L352.8,441.3 L356.4,441.4 L360.2,441.5 L363.9,441.6 L367.5,441.6 L371.0,441.7 L374.3,441.8 L377.3,441.9 L380.0,442.0 L384.0,442.2 L387.6,442.3" stroke="#5C6F6E" stroke-width="6.0"/>
<path d="M387.6,442.3 L390.8,442.5 L393.7,442.7 L396.5,442.9 L399.2,443.1" stroke="#5C6F6E" stroke-width="6.5"/>
<path d="M399.2,443.1 L402.0,443.3 L405.0,443.5 L408.2,443.7 L411.3,443.9" stroke="#5C6F6E" stroke-width="7.0"/>
<path d="M411.3,443.9 L414.6,444.0 L417.8,444.2 L420.9,444.4 L424.0,444.6" stroke="#5C6F6E" stroke-width="7.5"/>
<path d="M424.0,444.6 L427.1,444.8 L430.0,445.0 L433.2,445.2 L436.2,445.5 L439.2,445.7 L442.1,445.9" stroke="#5C6F6E" stroke-width="8.0"/>
<path d="M442.1,445.9 L445.0,446.2 L447.9,446.6 L451.0,447.0 L454.2,447.5 L457.6,448.0 L461.1,448.6" stroke="#5C6F6E" stroke-width="8.5"/>
<path d="M461.1,448.6 L464.5,449.2 L467.9,449.9 L471.1,450.7 L474.0,451.5 L477.7,452.8 L481.2,454.2 L484.4,455.7 L487.3,457.4 L490.0,459.0 L493.0,461.1 L495.5,463.2 L497.8,465.5 L500.0,468.0 L502.2,470.7 L504.3,473.7 L506.3,476.8 L508.0,480.0 L509.5,483.4 L510.7,486.9 L511.7,490.5 L512.5,494.0 L513.0,497.5 L513.3,501.1 L513.4,504.6 L513.5,508.0 L513.5,510.9 L513.3,513.6 L513.1,516.4 L513.0,520.0 L512.9,522.6 L512.9,525.5 L512.8,528.7 L512.8,531.9 L512.7,535.2 L512.8,538.2 L512.8,541.0 L512.9,544.4 L513.1,547.4 L513.4,550.3 L513.7,553.1 L514.0,556.0 L514.3,559.0 L514.7,562.0 L515.1,564.9 L515.5,567.9 L516.0,571.0 L516.5,574.2 L517.1,577.4 L517.8,580.6 L518.4,583.8 L519.0,587.0 L519.6,590.1 L520.2,593.1 L520.8,596.0 L521.4,599.0 L522.0,602.0 L522.6,605.0 L523.2,608.0 L523.8,611.0 L524.4,614.0 L525.0,617.0 L525.6,620.0 L526.2,622.9 L526.8,625.8 L527.4,628.8 L528.0,632.0 L528.5,634.8 L528.9,637.9 L529.4,640.9 L529.9,644.0 L530.4,647.1 L531.0,650.0 L531.9,653.3 L532.8,656.6 L533.8,659.8 L534.9,662.9 L536.0,666.0 L537.1,669.1 L538.3,672.2 L539.5,675.2 L540.7,678.1 L542.0,681.0 L543.7,684.5 L545.4,687.9 L547.2,691.1 L549.0,694.0 L551.3,697.2 L553.7,699.8 L556.0,702.0 L559.5,704.6 L563.0,706.0 L566.6,705.7 L570.0,704.5 L572.6,703.1 L576.0,701.0 L578.3,699.8 L581.0,698.4 L583.9,696.9 L587.0,695.3 L590.0,693.5 L592.4,691.9 L594.9,690.2 L597.4,688.5 L600.0,686.6 L602.5,684.8 L605.0,683.0 L607.5,681.2 L610.0,679.5 L612.4,677.8" stroke="#5C6F6E" stroke-width="9.0"/>
<path d="M612.4,677.8 L614.9,676.0 L617.4,674.1 L620.0,672.0 L622.2,670.1 L624.5,668.1 L626.8,666.0 L629.2,663.8 L631.5,661.5 L633.8,659.3 L636.0,657.0 L638.1,654.8 L640.1,652.8 L642.0,650.7 L643.9,648.5 L646.0,646.1 L648.3,643.3 L651.0,640.0 L652.6,638.0 L654.2,635.8 L656.0,633.5 L657.8,631.1 L659.7,628.6 L661.6,626.0 L663.6,623.3 L665.6,620.6 L667.6,617.9 L669.7,615.1 L671.8,612.4 L673.9,609.7 L676.0,607.0 L677.9,604.7 L679.7,602.4 L681.7,600.0 L683.6,597.6 L685.6,595.2 L687.6,592.8 L689.7,590.4 L691.7,588.0 L693.8,585.5 L695.8,583.1 L697.9,580.7 L699.9,578.2 L702.0,575.8 L704.0,573.4 L706.0,571.0 L708.0,568.6 L710.0,566.2 L712.0,563.8 L714.0,561.4 L716.0,559.0 L718.0,556.6 L720.0,554.2 L722.0,551.8 L724.0,549.4 L726.0,547.0 L728.0,544.6 L730.0,542.2 L732.0,539.8 L734.0,537.4 L736.0,535.0 L738.0,532.6 L740.0,530.2 L742.1,527.7 L744.2,525.3 L746.2,522.8 L748.3,520.4 L750.3,517.9 L752.4,515.5 L754.4,513.0 L756.4,510.6 L758.4,508.2 L760.4,505.9 L762.3,503.5 L764.2,501.3 L766.0,499.0 L768.1,496.4 L770.1,493.8 L772.2,491.1 L774.2,488.5 L776.2,485.9 L778.1,483.3 L780.0,480.8 L781.8,478.4 L783.6,476.0 L785.3,473.8 L787.0,471.7 L788.5,469.8 L790.0,468.0 L792.8,464.7 L795.1,462.1 L797.2,460.1 L799.1,458.3 L801.0,456.7 L803.0,455.0 L805.5,453.0" stroke="#5C6F6E" stroke-width="8.5"/>
<path d="M805.5,453.0 L807.9,451.2 L810.4,449.6 L813.0,448.2" stroke="#5C6F6E" stroke-width="8.0"/>
<path d="M813.0,448.2 L816.0,447.0 L818.8,446.2 L821.7,445.7 L824.9,445.3" stroke="#5C6F6E" stroke-width="7.5"/>
<path d="M824.9,445.3 L828.1,445.0 L831.5,444.8 L835.0,444.6 L838.1,444.5 L841.4,444.4 L844.8,444.3 L848.3,444.3 L851.7,444.4 L854.9,444.5 L858.0,444.6 L861.4,444.8 L864.8,445.0 L868.0,445.2" stroke="#5C6F6E" stroke-width="7.0"/>
<path d="M868.0,445.2 L871.0,445.5 L873.7,446.0 L876.0,446.7 L879.3,448.6" stroke="#5C6F6E" stroke-width="7.5"/>
<path d="M879.3,448.6 L881.4,451.1" stroke="#5C6F6E" stroke-width="8.0"/>
<path d="M881.4,451.1 L883.0,454.0 L884.2,457.2 L884.9,460.7 L885.5,465.0 L886.0,468.1 L886.4,471.6 L886.8,475.2 L887.3,478.9 L887.7,482.5 L888.1,485.8 L888.6,489.1 L889.0,492.3 L889.5,495.8 L890.0,499.5 L890.4,502.4 L890.8,505.5 L891.2,508.7 L891.7,512.0 L892.2,515.4 L892.7,518.7 L893.3,522.0 L894.0,525.3 L894.7,528.7 L895.5,532.1 L896.3,535.5 L897.2,538.9 L898.1,542.0 L899.0,545.0 L900.1,548.3 L901.2,551.4 L902.3,554.3 L903.5,557.1 L904.7,559.6 L906.0,562.0 L908.1,565.2 L910.4,568.0 L912.8,570.3 L915.0,572.0 L919.0,573.3 L923.0,573.0 L925.6,572.5 L928.4,571.6 L932.0,570.0 L934.3,568.9 L936.9,567.6 L939.8,566.1 L942.7,564.5 L945.8,562.8 L949.0,561.0 L951.4,559.6 L954.0,558.2 L956.6,556.8 L959.3,555.3 L962.0,553.7 L964.7,552.0 L967.4,550.1 L970.0,548.0 L972.2,546.0 L974.4,543.8 L976.5,541.4 L978.6,538.9 L980.8,536.4 L982.9,533.8 L985.2,531.2 L987.5,528.6 L990.0,526.0 L992.1,523.9 L994.4,521.8 L996.7,519.6 L999.1,517.4 L1001.5,515.2" stroke="#5C6F6E" stroke-width="8.5"/>
<path d="M1001.5,515.2 L1003.9,513.0 L1006.4,510.8 L1008.8,508.6 L1011.3,506.4 L1013.7,504.2 L1016.0,502.0 L1018.3,499.8 L1020.6,497.6 L1022.9,495.4 L1025.2,493.2 L1027.4,491.0 L1029.7,488.8 L1032.0,486.7 L1034.2,484.5 L1036.5,482.3 L1038.7,480.1 L1041.0,478.0 L1043.3,475.9 L1045.5,473.7 L1047.8,471.6 L1050.1,469.5 L1052.4,467.4 L1054.6,465.3 L1056.9,463.2 L1059.2,461.1 L1061.5,459.0 L1063.7,457.0 L1066.0,455.0 L1068.5,452.8 L1071.1,450.5 L1073.7,448.3 L1076.3,446.1 L1078.9,443.9 L1081.4,441.7 L1083.9,439.6 L1086.4,437.7 L1088.7,435.8 L1091.0,434.0 L1094.0,431.7 L1096.8,429.5 L1099.5,427.6 L1102.1,425.7 L1104.7,424.0 L1107.3,422.5 L1110.0,421.0 L1112.8,419.7 L1115.6,418.6 L1118.5,417.6 L1121.4,416.8" stroke="#5C6F6E" stroke-width="8.0"/>
<path d="M1121.4,416.8 L1124.3,415.9 L1127.1,415.0 L1130.0,414.0 L1132.9,412.9 L1135.7,411.8 L1138.6,410.6 L1141.4,409.5 L1144.3,408.3 L1147.1,407.2 L1150.0,406.0 L1152.9,404.9 L1155.7,403.8 L1158.6,402.7 L1161.4,401.6 L1164.3,400.5 L1167.1,399.3 L1170.0,398.0 L1172.9,396.6 L1175.8,395.0 L1178.8,393.3 L1181.7,391.6 L1184.6,389.9 L1187.4,388.4 L1190.0,387.0 L1193.6,385.2 L1197.0,383.5 L1200.3,382.0 L1203.1,380.8 L1205.5,380.0 L1208.8,379.7 L1210.5,381.0 L1212.0,383.5 L1213.5,387.0 L1215.0,389.8 L1216.7,392.9 L1218.5,396.0 L1220.2,399.0 L1222.0,401.9 L1224.0,405.0 L1225.8,407.5 L1227.7,410.2 L1229.8,412.8 L1232.0,415.0 L1234.9,417.5" stroke="#5C6F6E" stroke-width="7.5"/>
<path d="M1234.9,417.5 L1238.0,419.6 L1242.0,421.0 L1244.4,421.4 L1247.0,421.6 L1249.8,421.6 L1252.8,421.4 L1256.2,421.2 L1260.0,421.0 L1262.5,420.8 L1265.2,420.6 L1268.1,420.3 L1271.1,420.0 L1274.2,419.7 L1277.4,419.3 L1280.6,419.0 L1283.8,418.6 L1286.9,418.3 L1290.0,418.0 L1293.0,417.7 L1296.0,417.4 L1299.0,417.1 L1302.0,416.8 L1305.0,416.6 L1308.0,416.3 L1311.0,416.0 L1314.0,415.7 L1317.0,415.3 L1320.0,415.0 L1322.9,414.7 L1325.7,414.4 L1328.4,414.1 L1331.0,413.8 L1333.8,413.5 L1336.6,413.2 L1339.5,412.7 L1342.7,412.3 L1346.2,411.7 L1350.0,411.0 L1352.4,410.5 L1355.0,410.0 L1357.8,409.5 L1360.6,408.9 L1363.5,408.3 L1366.6,407.7 L1369.7,407.1 L1372.8,406.4 L1376.0,405.7" stroke="#5C6F6E" stroke-width="7.0"/>
<path d="M1376.0,405.7 L1379.1,405.0 L1382.3,404.3 L1385.4,403.6 L1388.5,402.9 L1391.5,402.2 L1394.5,401.4 L1397.3,400.7 L1400.0,400.0 L1403.2,399.1 L1406.3,398.3 L1409.4,397.4 L1412.4,396.5 L1415.4,395.6 L1418.4,394.7 L1421.2,393.8" stroke="#5C6F6E" stroke-width="7.5"/>
<path d="M1421.2,393.8 L1424.1,392.8 L1426.9,391.9 L1429.6,390.9 L1432.3,390.0 L1434.9,389.0 L1437.5,388.0 L1440.0,387.0 L1443.1,385.7 L1446.2,384.3 L1449.1,382.9 L1452.0,381.5 L1454.8,380.1 L1457.5,378.7 L1460.2,377.2 L1462.7,375.9 L1465.2,374.5 L1467.6,373.2 L1470.0,372.0 L1473.7,370.1 L1477.3,368.2 L1480.7,366.4 L1483.9,364.7 L1486.8,363.2 L1489.2,362.0 L1491.0,361.0" stroke="#5C6F6E" stroke-width="8.0"/>
<path d="M336.0,439.0 L337.6,439.0 L339.4,438.9 L341.4,438.9 L343.6,438.8 L346.0,438.8 L348.5,438.7 L351.2,438.6 L354.0,438.6 L356.9,438.5 L360.0,438.4 L363.1,438.4 L366.3,438.3 L369.6,438.2 L373.0,438.1" stroke="#FF8000" stroke-width="6.0"/>
<path d="M373.0,438.1 L376.4,438.0 L379.9,438.0 L383.4,437.9 L386.9,437.8 L390.4,437.7 L393.8,437.6 L397.3,437.5 L400.7,437.5 L404.1,437.4 L407.5,437.3 L410.7,437.2 L413.9,437.1 L417.0,437.1 L420.0,437.0 L423.1,436.9 L426.1,436.8 L429.0,436.8 L431.8,436.7 L434.6,436.6 L437.3,436.5 L440.0,436.4 L442.6,436.4 L445.2,436.3 L447.9,436.2 L450.5,436.1 L453.2,436.0 L455.9,436.0" stroke="#FF8000" stroke-width="5.5"/>
<path d="M455.9,436.0 L458.6,435.9 L461.4,435.8 L464.3,435.7 L467.3,435.7 L470.4,435.6 L473.5,435.5 L476.8,435.4 L480.3,435.4 L483.9,435.3 L487.6,435.2 L491.6,435.1 L495.7,435.1 L500.0,435.0 L502.3,435.0 L504.7,434.9 L507.2,434.9 L509.8,434.9 L512.4,434.8 L515.1,434.8 L517.8,434.8 L520.6,434.7 L523.4,434.7 L526.3,434.7 L529.3,434.6 L532.2,434.6 L535.3,434.6 L538.3,434.5 L541.4,434.5 L544.6,434.5 L547.7,434.4 L550.9,434.4 L554.1,434.4 L557.4,434.3 L560.6,434.3 L563.9,434.3 L567.2,434.2 L570.5,434.2 L573.8,434.2 L577.1,434.1 L580.4,434.1 L583.7,434.1 L587.0,434.0 L590.2,434.0 L593.5,434.0 L596.8,434.0 L600.0,433.9 L603.3,433.9 L606.5,433.9 L609.7,433.8 L612.8,433.8 L615.9,433.8 L619.0,433.8 L622.1,433.7 L625.1,433.7 L628.1,433.7 L631.0,433.7 L633.9,433.6 L636.7,433.6 L639.5,433.6 L642.2,433.6 L644.9,433.5 L647.5,433.5 L650.0,433.5 L653.8,433.5 L657.5,433.4 L661.2,433.4 L664.8,433.4 L668.4,433.4 L671.9,433.3 L675.4,433.3 L678.8,433.3 L682.2,433.3 L685.6,433.3 L688.9,433.2 L692.1,433.2 L695.4,433.2 L698.5,433.2 L701.7,433.2 L704.7,433.2 L707.8,433.2 L710.7,433.1 L713.7,433.1 L716.6,433.1 L719.4,433.1 L722.2,433.1 L725.0,433.1 L727.7,433.0 L730.3,433.0 L733.0,433.0 L735.5,433.0 L738.1,433.0 L740.5,432.9 L743.0,432.9 L745.4,432.9 L747.7,432.8 L750.0,432.8 L754.5,432.7 L758.8,432.6 L762.8,432.6" stroke="#FF8000" stroke-width="5.0"/>
<path d="M762.8,432.6 L766.6,432.5 L770.2,432.4 L773.5,432.3 L776.7,432.2 L779.7,432.1" stroke="#FF8000" stroke-width="5.5"/>
<path d="M779.7,432.1 L782.5,432.0 L785.3,431.9 L787.9,431.8 L790.4,431.6 L792.9,431.5" stroke="#FF8000" stroke-width="6.0"/>
<path d="M792.9,431.5 L795.3,431.3 L797.7,431.2 L800.0,431.0 L804.4,430.6 L808.2,430.1 L811.5,429.5 L814.5,428.9" stroke="#FF8000" stroke-width="6.5"/>
<path d="M814.5,428.9 L817.2,428.3 L819.8,427.8 L822.4,427.3 L825.0,427.0 L828.4,426.9 L831.5,427.1 L834.4,427.3 L837.2,427.6 L840.0,427.5 L843.0,427.0 L845.7,426.1 L848.4,424.8 L851.2,423.3 L854.0,421.6 L856.8,420.0 L859.4,418.6 L862.0,417.5 L865.4,416.4 L868.8,415.7 L872.0,415.2 L875.0,414.8 L878.0,414.5 L881.4,414.4 L884.6,414.5 L887.7,414.6 L891.0,414.5 L893.9,414.1 L897.0,413.7 L900.0,413.1 L903.1,412.4 L906.0,411.5 L909.2,410.2 L912.2,408.8 L915.4,407.0 L919.0,405.0 L921.4,403.7 L924.0,402.2 L926.7,400.7 L929.5,399.1 L932.4,397.4 L935.2,395.7 L938.0,394.0 L940.8,392.2 L943.6,390.3 L946.5,388.4 L949.3,386.5 L952.0,384.6 L954.6,383.0 L957.0,381.5 L960.5,379.7 L963.5,378.4 L966.5,377.2 L970.0,375.5 L972.4,374.1 L975.0,372.6 L977.7,370.9 L980.5,369.2 L983.4,367.4 L986.2,365.7 L989.0,364.0 L991.7,362.4 L994.4,360.7 L997.1,359.0 L999.9,357.3" stroke="#FF8000" stroke-width="7.0"/>
<path d="M999.9,357.3 L1002.6,355.8 L1005.3,354.3 L1008.0,353.0 L1011.2,351.7 L1014.3,350.5 L1017.5,349.5 L1020.7,348.6 L1023.8,347.8 L1027.0,347.0 L1030.2,346.3 L1033.4,345.7 L1036.7,345.2" stroke="#FF8000" stroke-width="7.5"/>
<path d="M1036.7,345.2 L1039.9,344.8 L1043.0,344.4 L1046.0,344.0 L1049.5,343.6 L1053.0,343.2 L1056.2,343.0 L1059.3,342.7 L1062.0,342.5 L1065.4,342.4 L1068.0,342.4 L1071.0,342.0 L1074.0,341.3 L1077.3,340.4 L1080.7,339.4 L1084.0,338.5 L1086.9,337.6 L1089.6,336.8 L1092.5,335.9 L1096.0,335.0 L1098.8,334.3 L1101.8,333.6 L1105.1,332.9 L1108.4,332.2 L1111.8,331.6 L1115.0,331.0 L1118.2,330.5 L1121.4,330.2 L1124.7,329.8 L1127.9,329.6 L1131.0,329.3 L1134.0,329.0 L1137.3,328.6 L1140.4,328.3 L1143.5,327.9 L1146.6,327.7 L1150.0,327.5 L1153.2,327.4 L1156.7,327.4 L1160.4,327.4 L1163.9,327.6 L1167.2,327.7 L1170.0,328.0 L1174.0,328.9 L1176.9,330.0 L1180.3,331.3 L1182.9,332.1 L1185.8,332.9 L1188.8,333.7 L1191.9,334.6 L1195.0,335.5 L1198.1,336.4 L1201.2,337.4 L1204.3,338.4 L1207.5,339.4 L1210.6,340.5 L1213.7,341.7 L1216.8,343.0 L1219.9,344.3 L1223.0,345.7 L1226.0,347.0 L1229.1,348.3 L1232.2,349.7 L1235.2,351.1 L1238.2,352.4 L1240.9,353.6 L1245.0,355.3 L1248.7,356.8 L1252.0,358.0 L1255.8,359.5 L1259.0,360.0 L1262.3,359.0 L1266.0,356.0 L1267.8,353.8 L1269.8,351.1 L1271.9,348.1 L1274.0,345.0 L1276.0,342.0 L1278.0,339.2 L1279.9,336.4 L1281.9,333.7 L1283.9,330.9 L1286.0,328.0 L1287.9,325.6 L1289.9,323.1 L1291.9,320.5 L1293.9,318.0 L1296.0,315.5 L1298.0,313.0 L1300.0,310.5 L1302.1,308.0 L1304.1,305.5 L1306.1,303.1 L1308.1,300.7 L1310.0,298.5 L1312.6,295.5 L1315.0,292.8" stroke="#FF8000" stroke-width="8.0"/>
<path d="M1315.0,292.8 L1317.4,290.2 L1320.0,287.5 L1322.1,285.3 L1324.1,283.1 L1326.3,280.9 L1328.7,278.4 L1331.5,275.5 L1333.3,273.6 L1335.2,271.6 L1337.3,269.4 L1339.4,267.1 L1341.7,264.8 L1343.9,262.4 L1346.1,260.2 L1348.4,258.0 L1350.5,256.0 L1352.9,253.9 L1355.2,251.9 L1357.6,249.9 L1360.0,248.1 L1362.3,246.2 L1364.7,244.5 L1367.0,242.7 L1369.4,241.0 L1372.2,239.0 L1375.1,237.0 L1378.0,234.9 L1380.8,233.0 L1383.5,231.3 L1386.1,229.7 L1388.3,228.5 L1392.4,226.7 L1395.4,226.0 L1398.4,226.0 L1401.6,226.6 L1404.6,228.0 L1407.3,230.0 L1409.6,232.6 L1411.6,235.8 L1413.6,240.0 L1414.7,242.6 L1415.8,245.7 L1416.9,248.9 L1418.0,252.3 L1419.0,255.7 L1420.0,259.0 L1420.9,262.2 L1421.9,265.4 L1422.8,268.6 L1423.6,271.7 L1424.4,274.9 L1425.0,278.0 L1425.5,281.0 L1425.9,284.0 L1426.2,287.0 L1426.4,290.0 L1426.7,293.0 L1427.0,296.0 L1427.4,299.1 L1427.8,302.2 L1428.3,305.4 L1428.7,308.6 L1429.1,311.8 L1429.5,315.0 L1429.8,318.3 L1430.1,321.7 L1430.4,325.2 L1430.6,328.6 L1430.8,331.9 L1431.0,335.0 L1431.1,338.4 L1431.2,341.6 L1431.1,344.6 L1431.1,347.7 L1431.0,351.0 L1430.8,354.0 L1430.5,357.2 L1430.2,360.5 L1429.9,363.7 L1429.8,366.6 L1430.0,369.0 L1431.0,372.6 L1432.7,375.1 L1435.0,377.0 L1438.1,378.3 L1441.8,378.9 L1446.0,379.0 L1448.7,378.8 L1451.7,378.3 L1454.8,377.6 L1457.9,376.8 L1461.0,376.0 L1464.0,375.1 L1467.0,374.1 L1470.0,373.0 L1473.0,372.0 L1476.0,371.0 L1479.3,370.1 L1482.9,369.1 L1486.3,368.3 L1489.3,367.5 L1491.4,367.0" stroke="#FF8000" stroke-width="8.5"/>
<path d="M336.0,440.0 L337.7,440.1 L339.6,440.1 L341.7,440.2 L344.0,440.3 L346.6,440.3 L349.3,440.4 L352.2,440.5 L355.3,440.6 L358.4,440.7 L361.7,440.8 L365.1,440.9" stroke="#FF8000" stroke-width="6.0"/>
<path d="M365.1,440.9 L368.5,441.0 L372.0,441.1 L375.6,441.3 L379.1,441.4 L382.7,441.5 L386.2,441.6 L389.8,441.7 L393.3,441.8 L396.7,441.9 L400.0,442.0 L402.9,442.1 L406.0,442.2 L409.1,442.2 L412.3,442.3 L415.6,442.3 L419.0,442.4" stroke="#FF8000" stroke-width="6.5"/>
<path d="M419.0,442.4 L422.4,442.5 L425.8,442.5 L429.3,442.6 L432.7,442.6 L436.1,442.7 L439.6,442.8 L442.9,442.8 L446.3,442.9 L449.5,443.0 L452.7,443.0 L455.8,443.1 L458.9,443.2" stroke="#FF8000" stroke-width="7.0"/>
<path d="M458.9,443.2 L461.7,443.3 L464.5,443.4 L467.1,443.6 L469.6,443.7 L471.9,443.8 L474.0,444.0 L480.0,444.6 L484.4,445.2 L487.6,446.0 L490.0,446.8 L492.1,447.7 L494.3,448.8 L497.0,450.0 L500.1,451.4 L503.1,453.0 L506.1,454.7" stroke="#FF8000" stroke-width="7.5"/>
<path d="M506.1,454.7 L509.1,456.5 L511.9,458.3 L514.5,460.2 L517.0,462.0 L519.6,464.1 L522.1,466.3 L524.3,468.6 L526.4,470.8 L528.3,472.9 L530.0,475.0 L532.3,477.8 L534.1,480.4 L535.7,483.0 L537.0,486.0 L537.9,488.7 L538.6,491.5 L539.1,494.4 L539.6,497.6 L540.0,501.0 L540.3,504.0 L540.5,507.3 L540.6,510.7 L540.7,514.1 L540.9,517.6 L541.0,521.0 L541.2,524.3 L541.3,527.7 L541.4,531.0 L541.6,534.3 L541.8,537.7 L542.0,541.0 L542.3,544.3 L542.5,547.7 L542.8,551.0 L543.1,554.3 L543.5,557.7 L544.0,561.0 L544.6,564.3 L545.2,567.7 L545.9,571.0 L546.6,574.3 L547.3,577.7 L548.0,581.0 L548.7,584.3 L549.4,587.7 L550.1,591.1 L550.8,594.4 L551.4,597.7 L552.0,601.0 L552.5,604.2 L552.8,607.4 L553.2,610.5 L553.5,613.6 L553.9,616.8 L554.5,620.0 L555.2,623.3 L556.1,626.8 L557.0,630.2 L558.0,633.7 L559.0,636.9 L560.0,640.0 L561.2,643.4 L562.3,646.6 L563.5,649.5 L564.7,652.3 L566.0,655.0 L567.7,658.1 L569.4,660.9 L571.2,663.6 L573.0,666.0 L575.3,669.0 L577.5,671.7 L580.0,674.0 L582.8,676.1 L585.8,678.0 L588.8,679.0 L592.9,678.7 L597.0,677.0 L599.4,675.4 L601.8,673.4 L605.0,671.0 L607.2,669.6 L609.6,668.0 L612.3,666.3 L615.1,664.6 L617.9,662.8 L620.6,661.0 L623.2,659.2 L625.8,657.5 L628.3,655.7 L630.9,653.9 L633.5,652.0 L636.0,650.0 L638.4,648.1 L640.7,646.4 L642.9,644.7 L645.3,642.7 L647.9,640.2 L651.0,637.0 L652.6,635.3 L654.2,633.4 L656.0,631.4 L657.8,629.2 L659.7,627.0 L661.6,624.6 L663.6,622.2 L665.6,619.7 L667.6,617.2 L669.7,614.7 L671.8,612.1 L673.9,609.6 L676.0,607.0 L677.9,604.8 L679.7,602.5 L681.7,600.2 L683.6,597.8 L685.6,595.4 L687.6,593.0 L689.7,590.6 L691.7,588.1 L693.8,585.7 L695.8,583.2 L697.9,580.8 L699.9,578.3 L702.0,575.8 L704.0,573.4 L706.0,571.0 L708.0,568.6 L710.0,566.2 L712.0,563.8 L714.0,561.4 L716.0,559.0 L718.0,556.6 L720.0,554.2 L722.0,551.8 L724.0,549.4 L726.0,547.0 L728.0,544.6 L730.0,542.2 L732.0,539.8 L734.0,537.4 L736.0,535.0 L738.0,532.6 L740.0,530.2 L742.1,527.7 L744.2,525.3 L746.2,522.8 L748.3,520.4 L750.3,517.9 L752.4,515.5 L754.4,513.0 L756.4,510.6 L758.4,508.2 L760.4,505.9 L762.3,503.5 L764.2,501.3 L766.0,499.0 L768.1,496.4 L770.1,493.8 L772.2,491.2 L774.2,488.5 L776.2,485.9 L778.1,483.4 L780.0,480.9 L781.8,478.5 L783.6,476.1 L785.3,473.9 L787.0,471.8 L788.5,469.8 L790.0,468.0 L792.8,464.6 L795.1,461.9 L797.2,459.6 L799.1,457.7 L801.0,455.8 L803.0,454.0 L805.7,451.8" stroke="#FF8000" stroke-width="8.0"/>
<path d="M805.7,451.8 L808.4,449.7 L811.2,447.9 L813.7,446.3" stroke="#FF8000" stroke-width="7.5"/>
<path d="M813.7,446.3 L816.0,445.0 L819.8,443.2" stroke="#FF8000" stroke-width="7.0"/>
<path d="M819.8,443.2 L824.0,442.5 L826.7,442.2 L829.7,442.1 L833.1,442.0 L836.5,441.9 L840.0,441.8 L842.8,441.7 L845.7,441.7 L848.6,441.6 L851.6,441.6 L854.7,441.5 L858.0,441.5 L861.1,441.4 L864.5,441.3 L868.0,441.2 L871.5,441.0 L875.0,441.0 L878.2,441.0 L881.0,441.2 L885.2,441.8" stroke="#FF8000" stroke-width="6.5"/>
<path d="M885.2,441.8 L888.8,442.6" stroke="#FF8000" stroke-width="7.0"/>
<path d="M888.8,442.6 L891.9,443.7" stroke="#FF8000" stroke-width="7.5"/>
<path d="M891.9,443.7 L894.5,445.0 L897.9,447.9" stroke="#FF8000" stroke-width="8.0"/>
<path d="M897.9,447.9 L900.0,452.0 L900.8,454.7 L901.4,457.8 L901.9,461.3 L902.4,465.0 L902.9,468.2 L903.3,471.7 L903.7,475.3 L904.2,479.0 L904.7,482.5 L905.3,485.9 L905.9,489.3 L906.5,492.7 L907.2,496.1 L908.0,499.5 L908.8,502.9 L909.6,506.3 L910.5,509.7 L911.5,513.1 L912.6,516.5 L913.6,519.4 L914.7,522.3 L915.8,525.2 L917.0,528.1 L918.3,530.9 L919.5,533.6 L921.0,536.8 L922.5,540.0 L924.1,543.1 L925.7,545.9 L927.4,548.3 L930.3,551.4 L933.4,553.6 L936.5,555.0 L939.5,555.4 L942.6,554.9 L945.6,554.0 L948.4,552.8 L951.2,551.3 L954.7,549.5 L957.5,548.3 L960.7,546.9 L964.1,545.5 L967.3,544.1 L970.0,542.6 L972.6,540.5" stroke="#FF8000" stroke-width="8.5"/>
<path d="M972.6,540.5 L974.3,538.4 L978.0,535.0 L979.8,533.6 L981.9,532.0 L984.3,530.2 L986.8,528.4 L989.4,526.4 L992.2,524.4 L995.0,522.3 L997.7,520.2 L1000.4,518.1 L1003.0,516.0 L1005.3,514.1 L1007.7,512.1 L1010.1,510.0 L1012.6,507.8 L1015.0,505.7 L1017.4,503.6 L1019.8,501.5 L1022.0,499.4 L1024.2,497.5 L1026.2,495.7 L1028.0,494.0 L1030.7,491.4 L1032.8,489.4 L1034.5,487.6 L1036.2,485.8 L1038.3,483.7 L1041.0,481.0 L1042.8,479.2 L1044.8,477.3 L1047.0,475.2 L1049.2,473.0 L1051.6,470.7 L1054.0,468.3 L1056.4,466.0 L1058.9,463.6 L1061.3,461.3 L1063.7,459.1 L1066.0,457.0 L1068.5,454.7 L1071.1,452.5 L1073.7,450.2 L1076.3,448.0 L1078.9,445.8 L1081.4,443.7 L1083.9,441.6 L1086.4,439.6 L1088.7,437.8 L1091.0,436.0 L1094.0,433.7 L1096.8,431.5 L1099.5,429.6 L1102.1,427.7 L1104.7,426.0 L1107.3,424.5 L1110.0,423.0 L1112.7,421.7 L1115.3,420.6 L1118.0,419.6 L1120.7,418.8" stroke="#FF8000" stroke-width="8.0"/>
<path d="M1120.7,418.8 L1123.5,417.9 L1126.6,417.0 L1130.0,416.0 L1132.6,415.2 L1135.5,414.4 L1138.6,413.6 L1141.8,412.8 L1145.0,412.0 L1148.2,411.2 L1151.4,410.4 L1154.5,409.6 L1157.4,408.8 L1160.0,408.0 L1163.4,407.0 L1166.4,406.0 L1169.2,405.1 L1171.9,404.2 L1174.5,403.2 L1177.2,402.1 L1180.0,401.0 L1183.0,399.7 L1186.1,398.2 L1189.3,396.6 L1192.4,395.0 L1195.4,393.5 L1198.1,392.1 L1200.5,391.0 L1204.8,389.0 L1208.0,387.6 L1210.6,387.0 L1213.4,387.9 L1215.6,390.0 L1218.1,392.6 L1220.7,396.0 L1222.4,398.7 L1224.0,401.7 L1226.0,405.0 L1227.7,407.7 L1229.6,410.7 L1231.7,413.6 L1234.0,416.0 L1236.4,418.0 L1239.1,419.7 L1241.9,421.0 L1245.0,422.0 L1247.5,422.4 L1250.0,422.6 L1252.7,422.5 L1256.0,422.3 L1260.0,422.0 L1262.4,421.8 L1265.0,421.6 L1267.9,421.3 L1270.9,421.0 L1274.1,420.7 L1277.3,420.3 L1280.5,420.0 L1283.8,419.6 L1286.9,419.3 L1290.0,419.0 L1293.0,418.7 L1296.2,418.4 L1299.3,418.1 L1302.5,417.8 L1305.6,417.6 L1308.7,417.3 L1311.7,417.0 L1314.6,416.7 L1317.4,416.3 L1320.0,416.0 L1323.7,415.4 L1326.7,414.9 L1329.4,414.3 L1332.2,413.7 L1335.6,412.9 L1340.0,412.0 L1342.4,411.5 L1345.1,411.0 L1347.9,410.5 L1350.8,410.0 L1353.9,409.4 L1357.1,408.8 L1360.4,408.2 L1363.7,407.6 L1367.0,406.9 L1370.4,406.2 L1373.6,405.5 L1376.9,404.8 L1380.0,404.0 L1383.1,403.2 L1386.3,402.3 L1389.4,401.4 L1392.6,400.5 L1395.8,399.5 L1399.0,398.5 L1402.2,397.5 L1405.3,396.5 L1408.4,395.5 L1411.5,394.6 L1414.4,393.7 L1417.3,392.8 L1420.0,392.0 L1423.4,391.0 L1426.7,390.2 L1429.9,389.3 L1433.0,388.6 L1435.9,387.8 L1438.8,387.1 L1441.7,386.3 L1444.5,385.6 L1447.2,384.8 L1450.0,384.0 L1453.4,382.9 L1456.8,381.8 L1460.1,380.7 L1463.3,379.5 L1466.4,378.3 L1469.4,377.2 L1472.3,376.1 L1475.0,375.0 L1478.5,373.5 L1481.9,372.0 L1485.1,370.4 L1487.9,369.0 L1490.2,367.9 L1492.0,367.0" stroke="#FF8000" stroke-width="7.5"/>
<path d="M336.0,438.5 L337.6,438.5 L339.4,438.4 L341.4,438.4 L343.6,438.3 L346.0,438.3 L348.5,438.2 L351.2,438.1 L354.0,438.1 L356.9,438.0 L360.0,437.9 L363.1,437.8 L366.3,437.8 L369.6,437.7 L373.0,437.6" stroke="#1400FF" stroke-width="6.0"/>
<path d="M373.0,437.6 L376.4,437.5 L379.9,437.4 L383.4,437.3 L386.9,437.3 L390.4,437.2 L393.8,437.1 L397.3,437.0 L400.7,436.9 L404.1,436.9 L407.5,436.8 L410.7,436.7 L413.9,436.6 L417.0,436.6 L420.0,436.5 L423.1,436.4 L426.1,436.4 L429.0,436.3 L431.8,436.2 L434.6,436.2 L437.3,436.1 L440.0,436.1 L442.6,436.0 L445.2,436.0 L447.9,435.9 L450.5,435.8 L453.2,435.8 L455.9,435.7" stroke="#1400FF" stroke-width="5.5"/>
<path d="M455.9,435.7 L458.6,435.7 L461.4,435.6 L464.3,435.6 L467.3,435.5 L470.4,435.5 L473.5,435.4 L476.8,435.3 L480.3,435.3 L483.9,435.2 L487.6,435.2 L491.6,435.1 L495.7,435.1 L500.0,435.0 L502.3,435.0 L504.7,434.9 L507.2,434.9 L509.8,434.9 L512.4,434.8 L515.1,434.8 L517.8,434.8 L520.6,434.7 L523.4,434.7 L526.3,434.7 L529.3,434.6 L532.2,434.6 L535.3,434.5 L538.3,434.5 L541.4,434.5 L544.6,434.4 L547.7,434.4 L550.9,434.4 L554.1,434.3 L557.4,434.3 L560.6,434.2 L563.9,434.2 L567.2,434.2 L570.5,434.1 L573.8,434.1 L577.1,434.1 L580.4,434.0 L583.7,434.0 L587.0,434.0 L590.2,433.9 L593.5,433.9 L596.8,433.8 L600.0,433.8 L603.3,433.8 L606.5,433.7 L609.7,433.7 L612.8,433.7 L615.9,433.6 L619.0,433.6 L622.1,433.6 L625.1,433.5 L628.1,433.5 L631.0,433.5 L633.9,433.5 L636.7,433.4 L639.5,433.4 L642.2,433.4 L644.9,433.3 L647.5,433.3 L650.0,433.3 L653.8,433.3 L657.5,433.2 L661.2,433.2 L664.8,433.2 L668.4,433.1 L671.9,433.1 L675.4,433.1 L678.8,433.1 L682.2,433.0 L685.6,433.0 L688.9,433.0 L692.1,433.0 L695.4,433.0 L698.5,433.0 L701.7,432.9 L704.7,432.9 L707.8,432.9 L710.7,432.9 L713.7,432.9 L716.6,432.9 L719.4,432.8 L722.2,432.8 L725.0,432.8 L727.7,432.8 L730.3,432.8 L733.0,432.8 L735.5,432.7 L738.1,432.7 L740.5,432.7 L743.0,432.7 L745.4,432.7 L747.7,432.6 L750.0,432.6 L754.5,432.5 L758.8,432.5 L762.8,432.5" stroke="#1400FF" stroke-width="5.0"/>
<path d="M762.8,432.5 L766.6,432.4 L770.2,432.4 L773.5,432.3 L776.7,432.3 L779.7,432.2" stroke="#1400FF" stroke-width="5.5"/>
<path d="M779.7,432.2 L782.5,432.2 L785.3,432.1 L787.9,432.0 L790.4,432.0 L792.9,431.9" stroke="#1400FF" stroke-width="6.0"/>
<path d="M792.9,431.9 L795.3,431.8 L797.7,431.6 L800.0,431.5 L804.4,431.1 L808.2,430.7 L811.5,430.2 L814.5,429.6" stroke="#1400FF" stroke-width="6.5"/>
<path d="M814.5,429.6 L817.2,429.1 L819.8,428.6 L822.4,428.2 L825.0,428.0 L828.4,428.0 L831.5,428.4 L834.4,428.8 L837.2,429.2 L840.0,429.4 L843.0,429.0 L845.7,428.2 L848.4,427.0 L851.2,425.5 L854.0,424.0 L856.8,422.4 L859.4,421.1 L862.0,420.0 L865.4,419.0 L868.8,418.2 L872.0,417.7 L875.0,417.3 L878.0,417.0 L881.4,416.9 L884.6,417.0 L887.7,417.1 L891.0,417.0 L893.9,416.6 L897.0,416.2 L900.0,415.6 L903.1,414.9 L906.0,414.0 L909.2,412.7 L912.2,411.2 L915.4,409.5 L919.0,407.5 L921.4,406.2 L924.0,404.7 L926.7,403.2 L929.5,401.6 L932.4,399.9 L935.2,398.2 L938.0,396.5 L940.8,394.7 L943.6,392.8 L946.5,390.9 L949.3,389.0 L952.0,387.1 L954.6,385.5 L957.0,384.0 L960.5,382.2 L963.5,380.9 L966.5,379.7 L970.0,378.0 L972.4,376.6 L975.0,375.1 L977.7,373.4 L980.5,371.6" stroke="#1400FF" stroke-width="7.0"/>
<path d="M980.5,371.6 L983.4,369.9 L986.2,368.1 L989.0,366.5 L991.7,364.9 L994.3,363.2 L997.0,361.6" stroke="#1400FF" stroke-width="7.5"/>
<path d="M997.0,361.6 L999.6,360.0 L1002.4,358.5 L1005.1,357.2 L1008.0,356.0 L1011.0,355.1 L1014.1,354.3 L1017.3,353.7 L1020.6,353.2 L1023.8,352.8 L1026.9,352.4 L1030.0,352.0 L1033.4,351.5 L1036.8,351.2 L1040.1,350.8" stroke="#1400FF" stroke-width="8.0"/>
<path d="M1040.1,350.8 L1043.4,350.6 L1046.7,350.3 L1050.0,350.0 L1053.4,349.7 L1056.9,349.4 L1060.4,349.2" stroke="#1400FF" stroke-width="8.5"/>
<path d="M1060.4,349.2 L1063.8,348.9 L1067.0,348.7 L1070.0,348.5 L1074.0,348.2 L1077.5,348.0 L1080.8,347.8 L1084.0,347.5 L1087.1,347.1 L1090.1,346.6 L1093.0,346.1 L1096.0,345.5 L1099.0,344.9 L1102.1,344.3 L1105.3,343.6 L1109.0,343.0 L1111.8,342.5 L1114.9,342.0 L1118.1,341.5 L1121.4,341.0 L1124.8,340.7 L1128.0,340.6 L1131.2,340.7 L1134.4,340.9 L1137.6,341.3 L1140.7,341.8 L1143.9,342.4 L1147.0,343.0 L1150.1,343.7 L1153.2,344.5 L1156.2,345.4 L1159.2,346.3 L1162.2,347.2 L1165.0,348.0 L1168.2,348.9 L1171.3,349.8 L1174.4,350.7 L1177.3,351.7 L1180.3,352.7 L1183.3,353.9 L1186.2,355.1 L1189.1,356.4 L1192.0,357.7 L1195.0,359.0 L1198.1,360.3 L1201.2,361.5 L1204.3,362.8 L1207.5,364.0 L1210.6,365.3 L1213.7,366.6 L1216.8,367.9 L1219.9,369.3 L1222.9,370.6 L1226.0,372.0 L1229.2,373.5 L1232.5,375.0 L1235.7,376.5 L1238.6,377.9 L1241.0,379.0 L1244.1,380.8 L1246.0,381.0 L1248.2,379.4" stroke="#1400FF" stroke-width="9.0"/>
<path d="M1248.2,379.4 L1251.0,376.0 L1252.7,373.9 L1254.6,371.4 L1256.8,368.6 L1258.9,365.8 L1261.0,363.0 L1263.0,360.4 L1265.0,357.7 L1267.0,355.0 L1269.0,352.3 L1271.0,349.5 L1272.7,347.1 L1274.3,344.6 L1276.0,342.0 L1277.7,339.5 L1279.3,337.0 L1281.0,334.5 L1283.0,331.6 L1285.0,328.7 L1287.1,325.9 L1289.1,323.2 L1291.0,320.5 L1292.8,318.0 L1294.4,315.8 L1296.0,313.5 L1297.8,311.2 L1300.0,308.5 L1301.9,306.3 L1304.1,303.9 L1306.5,301.3 L1308.9,298.7 L1311.3,296.2 L1313.5,294.0 L1315.5,292.0 L1318.3,289.5 L1320.6,287.7 L1322.9,286.1 L1325.6,284.0 L1327.8,282.2 L1330.1,280.2 L1332.6,278.1 L1335.1,276.0 L1337.6,273.9 L1340.0,272.0 L1342.7,269.9 L1345.4,267.8 L1348.1,265.8 L1350.6,264.1 L1353.0,262.6 L1356.6,260.6 L1359.8,259.2 L1363.0,258.8 L1366.4,259.7 L1369.8,261.6 L1373.0,264.0 L1375.2,266.0 L1377.2,268.3 L1379.2,271.0 L1381.0,274.0 L1382.4,276.8 L1383.6,280.0 L1384.8,283.3 L1385.9,286.7 L1387.0,290.0 L1388.0,293.2 L1389.0,296.5 L1389.9,299.7 L1390.7,302.9 L1391.5,306.0 L1392.4,309.7 L1393.1,313.4 L1393.8,316.8 L1394.5,320.0 L1395.5,323.3 L1396.6,326.1 L1397.5,330.0 L1397.9,332.7 L1398.3,335.9 L1398.7,339.3 L1399.1,342.9 L1399.4,346.5 L1399.6,350.0 L1399.7,353.0 L1399.7,356.2 L1399.6,359.4 L1399.5,362.6 L1399.5,365.6 L1399.4,368.5 L1399.5,371.0 L1399.6,374.8 L1399.6,378.0 L1400.0,380.7 L1401.0,383.0 L1403.4,385.3 L1406.7,386.9 L1410.7,388.0 L1413.4,388.5 L1416.4,388.9 L1419.6,389.2 L1422.9,389.2 L1426.0,389.0 L1428.9,388.6 L1431.8,387.9 L1434.7,387.0 L1437.7,386.0 L1441.0,385.0 L1444.1,384.1 L1447.5,383.1 L1451.0,382.0 L1454.5,380.9 L1457.9,379.9 L1461.0,379.0 L1464.3,378.1 L1467.3,377.3 L1470.2,376.5 L1473.1,375.8 L1476.0,375.0 L1479.3,374.1 L1482.9,373.2 L1486.3,372.3 L1489.3,371.5 L1491.4,371.0" stroke="#1400FF" stroke-width="8.5"/>
<path d="M336.0,439.0 L337.7,439.0 L339.7,439.0 L341.9,439.0 L344.4,439.1 L347.1,439.1 L350.0,439.1 L353.1,439.1 L356.3,439.2 L359.7,439.2 L363.1,439.2 L366.6,439.2 L370.2,439.3 L373.8,439.3 L377.3,439.3 L380.9,439.3 L384.3,439.4 L387.7,439.4 L391.0,439.4 L394.2,439.5 L397.2,439.5 L400.0,439.5 L403.5,439.5 L407.0,439.6 L410.5,439.6 L413.9,439.6 L417.3,439.6 L420.6,439.7 L423.9,439.7 L427.1,439.7" stroke="#1400FF" stroke-width="6.0"/>
<path d="M427.1,439.7 L430.2,439.7 L433.3,439.8 L436.2,439.8 L439.2,439.8 L442.0,439.9 L444.8,439.9 L447.4,440.0 L450.0,440.0 L453.9,440.1 L457.6,440.2 L461.1,440.2 L464.3,440.3 L467.4,440.4" stroke="#1400FF" stroke-width="6.5"/>
<path d="M467.4,440.4 L470.4,440.5 L473.2,440.6 L475.9,440.8 L478.5,440.9 L481.0,441.0 L484.9,441.2 L488.3,441.4 L491.3,441.6" stroke="#1400FF" stroke-width="7.0"/>
<path d="M491.3,441.6 L494.2,441.8 L497.0,442.1 L500.0,442.5 L503.1,443.0 L506.3,443.5 L509.4,444.1" stroke="#1400FF" stroke-width="7.5"/>
<path d="M509.4,444.1 L512.5,444.7 L515.4,445.4 L518.0,446.0 L521.5,446.9 L524.5,447.7 L527.3,448.7 L530.0,449.8 L533.5,451.6 L536.7,453.7 L540.0,456.3 L542.0,458.2 L544.1,460.3 L546.2,462.6 L548.2,465.0 L550.3,467.4 L552.4,469.9 L554.6,472.6 L556.7,475.3 L558.7,478.0 L560.4,480.6 L562.1,483.5 L563.6,486.3 L564.8,489.0 L566.0,492.0 L567.2,495.2 L568.4,498.7 L569.5,502.2 L570.5,505.8 L571.2,508.7 L571.8,511.5 L572.4,514.5 L572.9,517.6 L573.5,521.0 L574.0,524.1 L574.5,527.3 L575.0,530.7 L575.5,534.2 L576.0,537.6 L576.5,541.0 L577.0,544.3 L577.5,547.6 L578.0,551.0 L578.6,554.3 L579.1,557.6 L579.6,561.0 L580.1,564.4 L580.6,567.8 L581.0,571.2 L581.5,574.7 L582.0,578.1 L582.6,581.5 L583.2,584.9 L583.8,588.4 L584.5,591.9 L585.1,595.3 L585.9,598.6 L586.6,601.7 L587.6,605.2 L588.6,608.4 L589.7,611.5 L590.7,614.4 L591.7,617.0 L593.1,620.8 L594.5,623.9 L596.0,627.0 L597.9,630.2 L599.9,633.3 L602.0,636.0 L604.9,639.3 L608.0,642.0 L611.8,644.5 L616.0,646.0 L619.0,645.9 L622.1,645.0 L625.0,644.0 L628.2,642.4 L632.0,640.0 L634.2,638.7 L636.6,637.3 L639.3,635.7 L642.1,633.9 L645.0,632.0 L647.5,630.3 L650.0,628.4 L652.7,626.4 L655.3,624.3 L658.0,622.2 L660.6,620.0 L663.0,618.0 L665.2,616.3 L667.4,614.4 L669.8,612.3 L672.6,609.6 L676.0,606.0 L677.6,604.3 L679.3,602.4 L681.1,600.4 L683.0,598.2 L684.9,595.9 L686.9,593.6 L689.0,591.1 L691.2,588.6 L693.3,586.1 L695.5,583.5 L697.6,581.0 L699.8,578.4 L701.9,575.9 L704.0,573.4 L706.0,571.0 L708.0,568.6 L710.0,566.3 L712.0,563.9 L714.0,561.5 L716.0,559.1 L718.0,556.7 L720.0,554.3 L722.0,551.9 L724.0,549.4 L726.0,547.0 L728.0,544.6 L730.0,542.2 L732.0,539.8 L734.0,537.4 L736.0,535.0 L738.0,532.6 L740.0,530.2 L742.1,527.7 L744.2,525.3 L746.2,522.8 L748.3,520.4 L750.3,517.9 L752.4,515.5 L754.4,513.0 L756.4,510.6 L758.4,508.2 L760.4,505.9 L762.3,503.5 L764.2,501.3 L766.0,499.0 L768.1,496.4 L770.1,493.8 L772.2,491.2 L774.2,488.6 L776.2,486.0 L778.1,483.4 L780.0,481.0 L781.8,478.5 L783.6,476.2 L785.3,474.0 L787.0,471.8 L788.5,469.8 L790.0,468.0 L792.8,464.5 L795.2,461.7 L797.3,459.2 L799.2,457.1 L801.1,455.1 L803.0,453.0 L805.4,450.4" stroke="#1400FF" stroke-width="8.0"/>
<path d="M805.4,450.4 L807.7,448.0 L809.9,445.7 L812.0,443.7" stroke="#1400FF" stroke-width="7.5"/>
<path d="M812.0,443.7 L814.0,442.0 L817.1,439.6" stroke="#1400FF" stroke-width="7.0"/>
<path d="M817.1,439.6 L822.0,438.5 L824.2,438.2 L826.8,438.0 L829.7,437.8 L832.9,437.7 L836.2,437.6 L839.7,437.5 L843.3,437.4 L847.0,437.3 L849.8,437.2 L852.8,437.2 L855.9,437.1 L859.2,437.1 L862.5,437.1 L865.8,437.0 L869.1,437.1 L872.3,437.1 L875.4,437.1 L878.3,437.2 L881.0,437.3 L884.9,437.5" stroke="#1400FF" stroke-width="6.0"/>
<path d="M884.9,437.5 L888.6,437.8 L892.1,438.1" stroke="#1400FF" stroke-width="6.5"/>
<path d="M892.1,438.1 L895.3,438.5 L898.3,438.9 L901.1,439.4" stroke="#1400FF" stroke-width="7.0"/>
<path d="M901.1,439.4 L903.6,440.0 L907.4,441.1" stroke="#1400FF" stroke-width="7.5"/>
<path d="M907.4,441.1 L910.4,442.4 L912.9,444.0" stroke="#1400FF" stroke-width="8.0"/>
<path d="M912.9,444.0 L915.0,446.0 L916.6,448.4 L917.7,451.3 L918.6,454.4 L919.5,457.5 L920.5,460.7 L921.3,463.9 L922.2,467.3 L923.0,471.0 L923.7,474.2 L924.3,477.5 L924.9,481.0 L925.6,484.5 L926.3,488.0 L927.1,491.4 L928.0,494.9 L928.9,498.3 L929.8,501.7 L930.8,505.0 L931.8,508.2 L932.9,511.3 L934.1,514.4 L935.3,517.3 L936.5,520.0 L938.1,523.2 L939.7,526.2 L941.4,528.9 L943.3,531.3 L946.2,534.1 L949.4,536.4 L952.4,538.0 L956.2,538.7 L960.3,538.0 L962.7,537.2 L965.2,536.1 L968.1,534.7 L971.5,533.0 L973.8,531.9 L976.2,530.7 L978.8,529.4 L981.5,527.9 L984.4,526.3 L987.4,524.6 L990.5,522.6 L992.8,521.1 L995.1,519.5 L997.6,517.8 L1000.1,516.0 L1002.7,514.1 L1005.3,512.2 L1007.9,510.2 L1010.6,508.1 L1013.1,506.1 L1015.7,504.0 L1018.0,502.1 L1020.3,500.1 L1022.6,498.1 L1024.9,496.0 L1027.2,494.0 L1029.5,491.8 L1031.8,489.7 L1034.1,487.5 L1036.4,485.4 L1038.7,483.2 L1041.0,481.0 L1043.3,478.8 L1045.6,476.5 L1047.8,474.2 L1050.1,471.8 L1052.4,469.5" stroke="#1400FF" stroke-width="8.5"/>
<path d="M1052.4,469.5 L1054.7,467.1 L1056.9,464.8 L1059.2,462.5 L1061.5,460.3 L1063.7,458.1 L1066.0,456.0 L1068.5,453.8 L1071.1,451.5 L1073.7,449.3 L1076.3,447.2 L1078.9,445.1 L1081.4,443.1 L1083.9,441.2 L1086.4,439.3 L1088.7,437.6 L1091.0,436.0 L1093.9,433.9 L1096.5,432.1 L1099.0,430.4 L1101.4,429.0 L1103.9,427.6 L1106.8,426.3 L1110.0,425.0 L1112.6,424.1 L1115.4,423.3 L1118.3,422.5 L1121.4,421.8 L1124.6,421.1 L1127.8,420.4 L1131.0,419.8 L1134.1,419.1 L1137.2,418.6 L1140.0,418.0 L1143.4,417.3 L1146.8,416.8 L1150.2,416.2 L1153.4,415.8 L1156.6,415.3 L1159.5,414.9 L1162.4,414.4 L1165.0,414.0 L1168.6,413.4 L1171.6,413.0 L1174.3,412.5 L1177.1,411.9 L1180.3,411.0 L1183.0,410.1 L1186.1,409.0 L1189.2,407.9 L1192.4,406.6 L1195.4,405.4 L1198.2,404.1 L1200.5,403.0 L1204.3,400.4 L1206.7,397.9 L1209.0,396.0 L1212.4,394.9 L1215.6,395.0 L1219.3,395.7 L1222.7,397.0 L1224.8,398.6 L1226.7,401.0 L1228.3,403.7 L1230.0,406.9 L1232.0,410.0 L1234.4,412.9 L1237.1,415.6 L1240.0,418.0 L1242.8,419.9 L1245.9,421.4 L1250.0,422.5 L1252.6,423.0 L1255.6,423.4 L1258.8,423.8 L1262.2,424.0 L1266.0,424.1 L1270.0,424.0 L1272.5,423.8 L1275.0,423.6 L1277.6,423.3 L1280.3,422.9 L1283.1,422.5 L1286.1,422.1 L1289.2,421.6 L1292.6,421.1 L1296.1,420.5 L1300.0,420.0 L1302.6,419.7 L1305.3,419.3 L1308.1,418.9 L1311.1,418.5 L1314.1,418.1 L1317.3,417.7 L1320.5,417.3 L1323.8,416.9 L1327.0,416.4 L1330.4,416.0 L1333.7,415.5 L1337.0,415.0 L1340.3,414.5 L1343.6,414.0 L1346.8,413.5 L1350.0,413.0 L1353.1,412.5 L1356.3,411.9 L1359.5,411.4 L1362.7,410.8 L1366.0,410.2 L1369.2,409.6 L1372.4,409.0 L1375.6,408.4 L1378.8,407.7 L1382.0,407.1 L1385.1,406.4 L1388.2,405.8 L1391.2,405.1 L1394.2,404.4 L1397.1,403.7 L1400.0,403.0 L1403.2,402.2 L1406.3,401.3 L1409.4,400.4 L1412.4,399.4 L1415.4,398.5 L1418.4,397.5 L1421.2,396.5 L1424.1,395.5 L1426.9,394.5 L1429.6,393.6 L1432.3,392.6 L1434.9,391.7 L1437.5,390.8 L1440.0,390.0 L1443.4,388.9 L1446.8,387.8 L1450.0,386.7 L1453.1,385.7 L1456.1,384.7 L1459.1,383.7 L1461.9,382.8 L1464.7,381.8 L1467.4,380.9 L1470.0,380.0 L1473.8,378.7 L1477.5,377.3 L1481.1,376.0 L1484.5,374.8 L1487.6,373.6 L1490.1,372.7 L1492.0,372.0" stroke="#1400FF" stroke-width="8.0"/>
<path d="M336.0,437.5 L337.6,437.5 L339.4,437.4 L341.4,437.4 L343.6,437.4 L346.0,437.3 L348.5,437.3 L351.2,437.2 L354.0,437.2 L356.9,437.1 L360.0,437.1 L363.1,437.0 L366.3,437.0 L369.6,436.9 L373.0,436.8" stroke="#1E78FF" stroke-width="6.0"/>
<path d="M373.0,436.8 L376.4,436.8 L379.9,436.7 L383.4,436.7 L386.9,436.6 L390.4,436.5 L393.8,436.5 L397.3,436.4 L400.7,436.3 L404.1,436.3 L407.5,436.2 L410.7,436.2 L413.9,436.1 L417.0,436.1 L420.0,436.0 L423.1,435.9 L426.1,435.9 L429.0,435.8 L431.8,435.8 L434.6,435.7 L437.3,435.7 L440.0,435.6 L442.6,435.5 L445.2,435.5 L447.9,435.4 L450.5,435.4 L453.2,435.3 L455.9,435.2" stroke="#1E78FF" stroke-width="5.5"/>
<path d="M455.9,435.2 L458.6,435.2 L461.4,435.1 L464.3,435.1 L467.3,435.0 L470.4,435.0 L473.5,434.9 L476.8,434.8 L480.3,434.8 L483.9,434.7 L487.6,434.7 L491.6,434.6 L495.7,434.6 L500.0,434.5 L502.3,434.5 L504.7,434.4 L507.2,434.4 L509.8,434.4 L512.4,434.3 L515.1,434.3 L517.8,434.3 L520.6,434.3 L523.4,434.2 L526.3,434.2 L529.3,434.2 L532.2,434.1 L535.3,434.1 L538.3,434.1 L541.4,434.0 L544.6,434.0 L547.7,434.0 L550.9,433.9 L554.1,433.9 L557.4,433.9 L560.6,433.8 L563.9,433.8 L567.2,433.8 L570.5,433.7 L573.8,433.7 L577.1,433.7 L580.4,433.6 L583.7,433.6 L587.0,433.6 L590.2,433.5 L593.5,433.5 L596.8,433.5 L600.0,433.5 L603.3,433.4 L606.5,433.4 L609.7,433.4 L612.8,433.3 L615.9,433.3 L619.0,433.3 L622.1,433.2 L625.1,433.2 L628.1,433.2 L631.0,433.2 L633.9,433.1 L636.7,433.1 L639.5,433.1 L642.2,433.1 L644.9,433.0 L647.5,433.0 L650.0,433.0 L653.8,433.0 L657.5,432.9 L661.2,432.9 L664.8,432.9 L668.4,432.9 L671.9,432.8 L675.4,432.8 L678.8,432.8 L682.2,432.8 L685.6,432.8 L688.9,432.7 L692.1,432.7 L695.4,432.7 L698.5,432.7 L701.7,432.7 L704.7,432.7 L707.8,432.7 L710.7,432.6 L713.7,432.6 L716.6,432.6 L719.4,432.6 L722.2,432.6 L725.0,432.6 L727.7,432.5 L730.3,432.5 L733.0,432.5 L735.5,432.5 L738.1,432.5 L740.5,432.4 L743.0,432.4 L745.4,432.4 L747.7,432.3 L750.0,432.3 L754.6,432.2 L758.8,432.1 L762.9,432.0" stroke="#1E78FF" stroke-width="5.0"/>
<path d="M762.9,432.0 L766.7,432.0 L770.3,431.9 L773.7,431.8 L777.0,431.7 L780.0,431.5" stroke="#1E78FF" stroke-width="5.5"/>
<path d="M780.0,431.5 L782.9,431.4 L785.6,431.3 L788.3,431.2 L790.8,431.1 L793.2,430.9" stroke="#1E78FF" stroke-width="6.0"/>
<path d="M793.2,430.9 L795.5,430.8 L797.8,430.6 L800.0,430.5 L805.0,430.1" stroke="#1E78FF" stroke-width="6.5"/>
<path d="M805.0,430.1 L808.8,429.6 L811.7,429.1" stroke="#1E78FF" stroke-width="7.0"/>
<path d="M811.7,429.1 L814.2,428.5 L816.8,428.0" stroke="#1E78FF" stroke-width="7.5"/>
<path d="M816.8,428.0 L820.0,427.5 L823.2,427.1 L826.5,426.6" stroke="#1E78FF" stroke-width="8.0"/>
<path d="M826.5,426.6 L830.0,426.1 L833.4,425.7 L836.8,425.2" stroke="#1E78FF" stroke-width="8.5"/>
<path d="M836.8,425.2 L840.0,424.8 L843.0,424.5 L846.7,424.1 L850.1,423.8 L853.3,423.5 L856.5,423.3 L860.0,423.0 L863.1,422.8 L866.3,422.6 L869.6,422.4" stroke="#1E78FF" stroke-width="9.0"/>
<path d="M869.6,422.4 L873.0,422.2 L876.5,421.9 L880.0,421.5 L883.2,421.0 L886.6,420.5 L890.1,419.9" stroke="#1E78FF" stroke-width="9.5"/>
<path d="M890.1,419.9 L893.5,419.2 L896.9,418.5 L900.1,417.7 L903.0,417.0 L906.6,415.9 L909.9,414.7 L912.9,413.4 L915.6,412.2 L918.0,411.0 L920.9,409.4 L923.1,408.0 L926.0,406.0 L928.1,404.6 L930.5,403.0 L933.1,401.2" stroke="#1E78FF" stroke-width="10.0"/>
<path d="M933.1,401.2 L935.8,399.4 L938.5,397.7 L941.0,396.0 L943.8,394.1 L946.6,392.3" stroke="#1E78FF" stroke-width="10.5"/>
<path d="M946.6,392.3 L949.4,390.6 L952.2,388.8 L955.0,387.0 L957.9,385.2" stroke="#1E78FF" stroke-width="11.0"/>
<path d="M957.9,385.2 L960.7,383.5 L963.7,381.7 L966.7,379.9" stroke="#1E78FF" stroke-width="11.5"/>
<path d="M966.7,379.9 L970.0,378.0 L972.5,376.5" stroke="#1E78FF" stroke-width="12.0"/>
<path d="M972.5,376.5 L975.1,374.9 L977.9,373.3" stroke="#1E78FF" stroke-width="12.5"/>
<path d="M977.9,373.3 L980.6,371.6 L983.5,370.0 L986.3,368.4" stroke="#1E78FF" stroke-width="13.0"/>
<path d="M986.3,368.4 L989.0,367.0 L992.2,365.4" stroke="#1E78FF" stroke-width="13.5"/>
<path d="M992.2,365.4 L995.3,363.9 L998.5,362.4" stroke="#1E78FF" stroke-width="14.0"/>
<path d="M998.5,362.4 L1001.7,361.0 L1004.8,359.9" stroke="#1E78FF" stroke-width="14.5"/>
<path d="M1004.8,359.9 L1008.0,359.0 L1011.2,358.4 L1014.3,358.1" stroke="#1E78FF" stroke-width="15.0"/>
<path d="M1014.3,358.1 L1017.5,358.0 L1020.7,358.0" stroke="#1E78FF" stroke-width="15.5"/>
<path d="M1020.7,358.0 L1023.8,358.1 L1027.0,358.0 L1030.1,357.9 L1033.1,357.9 L1036.1,358.0 L1039.2,357.9 L1042.5,357.8 L1046.0,357.6 L1048.9,357.3" stroke="#1E78FF" stroke-width="16.0"/>
<path d="M1048.9,357.3 L1052.0,356.9 L1055.2,356.4" stroke="#1E78FF" stroke-width="15.5"/>
<path d="M1055.2,356.4 L1058.5,355.9 L1061.8,355.4" stroke="#1E78FF" stroke-width="15.0"/>
<path d="M1061.8,355.4 L1065.0,354.9 L1068.1,354.4" stroke="#1E78FF" stroke-width="14.5"/>
<path d="M1068.1,354.4 L1071.0,354.0 L1074.5,353.5" stroke="#1E78FF" stroke-width="14.0"/>
<path d="M1074.5,353.5 L1077.8,352.9" stroke="#1E78FF" stroke-width="13.5"/>
<path d="M1077.8,352.9 L1080.9,352.3 L1083.9,351.8" stroke="#1E78FF" stroke-width="13.0"/>
<path d="M1083.9,351.8 L1086.9,351.6" stroke="#1E78FF" stroke-width="12.5"/>
<path d="M1086.9,351.6 L1090.0,351.5 L1093.1,351.7 L1096.1,352.0" stroke="#1E78FF" stroke-width="12.0"/>
<path d="M1096.1,352.0 L1099.1,352.5 L1102.2,353.2" stroke="#1E78FF" stroke-width="12.5"/>
<path d="M1102.2,353.2 L1105.5,354.0 L1109.0,355.0 L1111.9,355.8" stroke="#1E78FF" stroke-width="13.0"/>
<path d="M1111.9,355.8 L1115.0,356.8 L1118.2,357.9" stroke="#1E78FF" stroke-width="13.5"/>
<path d="M1118.2,357.9 L1121.5,359.0 L1124.8,360.2" stroke="#1E78FF" stroke-width="14.0"/>
<path d="M1124.8,360.2 L1128.0,361.5 L1131.1,362.7" stroke="#1E78FF" stroke-width="14.5"/>
<path d="M1131.1,362.7 L1134.0,364.0 L1137.0,365.5 L1139.9,367.1 L1142.7,368.7 L1145.3,370.3 L1147.9,371.9 L1150.4,373.5 L1153.0,375.0 L1156.0,376.7 L1159.1,378.3 L1162.1,379.9" stroke="#1E78FF" stroke-width="15.0"/>
<path d="M1162.1,379.9 L1164.9,381.4 L1167.6,382.8 L1170.0,384.0 L1173.7,385.6" stroke="#1E78FF" stroke-width="14.5"/>
<path d="M1173.7,385.6 L1176.6,386.7 L1180.0,388.0 L1182.7,389.1 L1185.6,390.3 L1188.7,391.5 L1191.9,392.8 L1195.0,394.0 L1198.1,395.2 L1201.3,396.5 L1204.4,397.7 L1207.5,398.9 L1210.6,400.0 L1214.4,401.2" stroke="#1E78FF" stroke-width="14.0"/>
<path d="M1214.4,401.2 L1218.1,402.4 L1221.7,403.3" stroke="#1E78FF" stroke-width="13.0"/>
<path d="M1221.7,403.3 L1225.0,404.0" stroke="#1E78FF" stroke-width="12.0"/>
<path d="M1225.0,404.0 L1229.1,404.8" stroke="#1E78FF" stroke-width="11.5"/>
<path d="M1229.1,404.8 L1232.8,405.2" stroke="#1E78FF" stroke-width="11.0"/>
<path d="M1232.8,405.2 L1236.0,404.0" stroke="#1E78FF" stroke-width="10.5"/>
<path d="M1236.0,404.0 L1237.6,402.1" stroke="#1E78FF" stroke-width="10.0"/>
<path d="M1237.6,402.1 L1239.0,399.4 L1240.3,396.2 L1241.6,393.0" stroke="#1E78FF" stroke-width="9.5"/>
<path d="M1241.6,393.0 L1243.0,390.0 L1244.5,387.3 L1246.0,384.7 L1247.6,382.2 L1249.3,379.6 L1251.0,377.0 L1252.9,374.4 L1254.9,371.8 L1256.9,369.2 L1259.0,366.6 L1261.0,364.0 L1263.0,361.4 L1265.0,358.9 L1267.0,356.3 L1269.0,353.7 L1271.0,351.0 L1272.7,348.6 L1274.3,346.1 L1276.0,343.6 L1277.7,341.0 L1279.3,338.5 L1281.0,336.0 L1283.0,333.1 L1285.0,330.3 L1287.1,327.4 L1289.1,324.7 L1291.0,322.0 L1292.8,319.4 L1294.5,316.8 L1296.2,314.3 L1298.0,311.8 L1300.0,309.5 L1302.3,307.2 L1304.8,304.9 L1307.4,302.8 L1310.0,300.8 L1312.6,299.0 L1315.8,297.1 L1319.1,295.4 L1322.2,294.1 L1325.0,293.0 L1329.1,291.6 L1332.8,291.6 L1335.7,292.6 L1338.8,294.4 L1341.6,296.7 L1344.0,299.6 L1346.1,303.0 L1348.0,306.8 L1349.2,309.8 L1350.2,313.1 L1351.1,316.5 L1352.0,320.0 L1352.7,322.9 L1353.3,325.8 L1353.9,328.9 L1354.5,331.9 L1355.0,335.0 L1355.5,337.8 L1355.9,340.5 L1356.3,343.3 L1356.7,346.5 L1357.2,350.6 L1357.5,353.1 L1357.7,356.0 L1358.0,359.2 L1358.3,362.5 L1358.7,366.0 L1359.0,369.4 L1359.3,372.7 L1359.6,375.8 L1359.9,378.5 L1360.2,380.9 L1360.6,385.4 L1360.8,388.7 L1361.5,391.0 L1363.2,393.0 L1365.7,394.2 L1368.9,395.0 L1372.6,395.4 L1376.5,395.7 L1380.4,396.0 L1383.6,396.3 L1386.9,396.6 L1390.3,396.8 L1393.8,397.0 L1397.2,397.0 L1400.6,397.0 L1404.0,396.9 L1407.3,396.7 L1410.7,396.4 L1414.1,396.0 L1417.4,395.5 L1420.8,395.0 L1424.2,394.4 L1427.5,393.6 L1430.9,392.8" stroke="#1E78FF" stroke-width="9.0"/>
<path d="M1430.9,392.8 L1434.3,391.9 L1437.6,390.9 L1441.0,390.0 L1444.3,389.0 L1447.7,388.0 L1451.0,387.0" stroke="#1E78FF" stroke-width="9.5"/>
<path d="M1451.0,387.0 L1454.3,386.0 L1457.7,385.0 L1461.0,384.0 L1464.4,383.1 L1468.0,382.1" stroke="#1E78FF" stroke-width="10.0"/>
<path d="M1468.0,382.1 L1471.5,381.2 L1474.9,380.3" stroke="#1E78FF" stroke-width="10.5"/>
<path d="M1474.9,380.3 L1478.1,379.5 L1481.0,378.8 L1484.8,377.8 L1488.2,377.0 L1491.0,376.3 L1493.0,375.8" stroke="#1E78FF" stroke-width="11.0"/>
<path d="M336.0,438.0 L337.6,438.0 L339.4,438.0 L341.3,438.0 L343.4,438.0 L345.6,438.0 L348.0,438.0 L350.5,437.9 L353.1,437.9 L355.9,437.9 L358.7,437.9 L361.7,437.9 L364.7,437.9 L367.9,437.9 L371.1,437.9 L374.4,437.9 L377.7,437.9 L381.1,437.8 L384.5,437.8 L388.0,437.8" stroke="#1E78FF" stroke-width="6.0"/>
<path d="M388.0,437.8 L391.5,437.8 L395.0,437.8 L398.5,437.8 L402.1,437.8 L405.6,437.7 L409.1,437.7 L412.6,437.7 L416.1,437.7 L419.5,437.7 L422.9,437.7 L426.2,437.6 L429.5,437.6 L432.7,437.6 L435.8,437.6 L438.9,437.6 L441.8,437.6 L444.7,437.5 L447.4,437.5 L450.0,437.5 L453.7,437.5 L457.4,437.4 L461.1,437.4 L464.8,437.3 L468.5,437.3 L472.1,437.2 L475.7,437.2 L479.3,437.1 L482.8,437.0 L486.2,437.0 L489.6,436.9 L492.9,436.9 L496.2,436.8" stroke="#1E78FF" stroke-width="6.5"/>
<path d="M496.2,436.8 L499.4,436.7 L502.5,436.7 L505.5,436.6 L508.4,436.6 L511.3,436.6 L514.0,436.5 L516.7,436.5 L519.2,436.5 L521.6,436.5 L523.9,436.5 L526.1,436.5 L528.1,436.5 L530.0,436.5 L537.2,436.8" stroke="#1E78FF" stroke-width="7.0"/>
<path d="M537.2,436.8 L540.7,437.3 L542.1,437.8 L543.0,438.5" stroke="#1E78FF" stroke-width="7.5"/>
<path d="M543.0,438.5 L545.0,439.2 L548.1,439.9 L551.2,440.6 L554.4,441.3" stroke="#1E78FF" stroke-width="8.0"/>
<path d="M554.4,441.3 L557.5,442.2 L560.4,443.2 L563.9,444.7 L567.3,446.5" stroke="#1E78FF" stroke-width="8.5"/>
<path d="M567.3,446.5 L570.6,448.4 L573.5,450.3 L576.0,452.3 L578.2,454.3 L580.3,456.4 L582.6,458.4 L585.0,460.5 L587.5,462.5 L590.1,464.5 L592.7,466.4 L595.5,468.1 L598.6,469.6 L601.4,471.0 L603.8,472.5 L606.9,475.4 L608.8,478.6 L609.8,482.1 L610.3,486.6 L610.5,489.6 L610.6,492.9 L610.8,496.7 L611.0,500.8 L611.2,503.8 L611.5,507.1 L611.9,510.5 L612.2,514.1 L612.6,517.6 L613.0,521.0 L613.4,524.3 L613.9,527.7 L614.4,531.0 L614.9,534.3 L615.4,537.7 L616.0,541.0 L616.6,544.3 L617.3,547.6 L617.9,551.0 L618.6,554.3 L619.3,557.6 L620.0,561.0 L620.7,564.4 L621.3,568.0 L621.9,571.6" stroke="#1E78FF" stroke-width="9.0"/>
<path d="M621.9,571.6 L622.6,575.0 L623.3,578.4 L624.0,581.5 L624.9,584.9 L625.8,588.2" stroke="#1E78FF" stroke-width="9.5"/>
<path d="M625.8,588.2 L626.8,591.2 L627.9,594.0 L629.0,596.7 L630.5,599.9 L632.2,603.0 L634.0,605.6 L636.0,607.8 L638.9,609.9 L642.2,611.2 L646.0,611.8 L648.8,611.7 L651.9,611.2 L655.1,610.4 L658.2,609.6 L661.0,608.8 L664.9,607.6 L668.2,606.2" stroke="#1E78FF" stroke-width="10.0"/>
<path d="M668.2,606.2 L671.4,604.7 L674.3,602.9 L677.1,601.0 L680.0,598.7 L682.3,596.9 L684.7,595.1 L687.3,592.9 L690.3,590.0 L692.2,588.0 L694.3,585.7 L696.4,583.1 L698.7,580.5 L700.9,577.8 L703.2,575.1 L705.4,572.5 L707.6,570.0 L709.7,567.4 L711.9,564.8 L714.1,562.2 L716.3,559.6 L718.4,557.0 L720.6,554.5 L722.8,552.0 L724.9,549.5 L727.1,547.0 L729.2,544.5 L731.4,542.0 L733.5,539.5 L735.7,537.0 L737.9,534.5 L740.0,531.9 L742.2,529.3 L744.3,526.8 L746.5,524.2 L748.6,521.6 L750.8,519.0 L753.0,516.4 L755.2,513.7 L757.4,511.1 L759.6,508.4 L761.7,505.7 L763.9,503.1 L766.0,500.5 L768.1,497.9 L770.3,495.2 L772.5,492.5 L774.6,489.9 L776.6,487.4 L778.4,485.1 L780.0,483.0 L782.5,479.2 L784.1,476.3 L786.0,473.0 L787.6,470.5 L789.5,467.8 L791.4,465.1 L793.3,462.4 L795.0,460.0 L797.4,456.7 L799.7,453.9 L802.0,451.0 L803.9,448.5 L805.8,445.8 L807.9,443.2 L810.0,441.0 L812.9,438.9" stroke="#1E78FF" stroke-width="10.5"/>
<path d="M812.9,438.9 L815.9,437.3 L819.6,436.0 L822.3,435.4" stroke="#1E78FF" stroke-width="10.0"/>
<path d="M822.3,435.4 L825.4,435.0 L828.6,434.6 L831.8,434.3" stroke="#1E78FF" stroke-width="9.5"/>
<path d="M831.8,434.3 L834.7,434.0 L837.5,433.6 L839.7,433.2 L842.5,432.8 L847.0,432.5 L849.3,432.4 L852.0,432.3 L855.0,432.3 L858.2,432.2 L861.6,432.2 L865.1,432.2 L868.6,432.1 L872.0,432.1 L875.2,432.1 L878.3,432.0 L881.0,432.0 L884.8,431.9 L888.3,431.8 L891.5,431.7 L894.5,431.6 L897.5,431.5 L900.5,431.5 L903.6,431.5 L906.9,431.5 L910.4,431.5 L913.9,431.6 L917.4,431.7 L920.6,431.8 L923.7,432.1 L926.3,432.5 L930.0,433.4 L932.9,434.7 L935.4,436.2 L937.6,438.0 L939.7,440.1 L941.5,442.5 L943.0,445.2 L944.4,448.4 L945.3,451.3 L946.1,454.5 L946.8,457.9 L947.3,461.5 L947.8,465.4 L948.1,468.4 L948.2,471.8 L948.4,475.3 L948.4,478.8 L948.6,482.2 L948.7,485.3 L949.0,488.0 L949.9,492.7 L951.0,496.1 L952.4,499.5 L953.6,502.5 L955.0,505.5 L956.4,508.4 L958.0,511.0 L960.0,514.1 L962.2,516.7 L965.0,518.5 L967.5,519.4 L970.4,520.0 L973.8,520.0 L978.0,519.0 L980.2,518.2 L982.7,517.1 L985.4,515.8 L988.3,514.3 L991.2,512.7 L994.2,511.1 L997.2,509.3 L1000.1,507.7 L1003.0,506.0 L1005.8,504.4 L1008.6,502.8" stroke="#1E78FF" stroke-width="9.0"/>
<path d="M1008.6,502.8 L1011.4,501.1 L1014.2,499.4 L1017.0,497.7 L1019.9,495.9 L1022.7,494.0" stroke="#1E78FF" stroke-width="8.5"/>
<path d="M1022.7,494.0 L1025.5,492.1 L1028.3,490.0 L1030.6,488.2 L1032.9,486.4 L1035.2,484.4 L1037.5,482.5 L1039.8,480.4 L1042.1,478.4 L1044.4,476.3 L1046.7,474.2 L1049.0,472.1 L1051.3,470.0 L1053.6,468.0 L1055.9,465.9 L1058.3,463.8 L1060.7,461.6 L1063.1,459.4 L1065.5,457.2 L1067.9,455.1 L1070.2,453.0 L1072.5,450.9 L1074.7,449.0 L1076.8,447.2 L1078.8,445.6 L1082.0,443.0 L1084.8,440.7 L1087.4,438.8 L1090.0,437.1 L1092.8,435.5 L1096.0,434.0 L1098.7,432.9 L1101.6,432.0 L1104.6,431.1 L1107.8,430.3 L1111.0,429.6 L1114.3,428.9 L1117.6,428.4 L1121.0,428.0 L1124.0,427.8 L1127.2,427.6 L1130.3,427.6 L1133.6,427.7 L1136.8,427.8 L1140.1,428.0 L1143.4,428.1 L1146.7,428.1 L1150.0,428.0 L1153.0,427.9 L1156.1,427.7 L1159.2,427.4 L1162.4,427.2 L1165.6,426.9 L1168.7,426.6 L1171.7,426.3 L1174.6,426.0 L1177.4,425.8 L1180.0,425.5 L1183.9,425.1 L1187.4,424.6 L1190.6,424.2 L1193.7,423.8 L1196.8,423.4 L1200.0,423.0 L1203.4,422.7 L1206.9,422.4 L1210.4,422.1 L1213.8,421.8 L1217.0,421.4 L1220.0,421.0 L1224.0,420.0 L1227.6,418.7" stroke="#1E78FF" stroke-width="8.0"/>
<path d="M1227.6,418.7 L1230.9,417.6 L1234.0,417.0 L1237.6,417.3 L1240.7,418.3 L1244.0,419.5 L1246.8,420.6 L1249.7,421.8 L1252.7,423.0 L1256.0,424.0 L1258.6,424.6 L1261.1,425.0 L1263.8,425.3 L1267.1,425.5 L1271.0,425.5 L1273.5,425.4 L1276.3,425.3 L1279.2,425.1 L1282.3,424.9" stroke="#1E78FF" stroke-width="7.5"/>
<path d="M1282.3,424.9 L1285.6,424.6 L1289.0,424.3 L1292.5,423.9 L1296.2,423.5 L1300.0,423.0 L1302.7,422.6 L1305.5,422.2 L1308.5,421.8 L1311.5,421.3 L1314.6,420.8 L1317.7,420.2 L1320.9,419.7 L1324.1,419.1 L1327.3,418.5 L1330.5,417.9 L1333.7,417.3 L1336.9,416.6 L1340.0,416.0 L1343.1,415.3 L1346.2,414.6 L1349.2,413.9 L1352.3,413.1 L1355.4,412.3 L1358.5,411.5 L1361.5,410.7 L1364.6,409.8 L1367.7,409.0 L1370.8,408.2 L1373.8,407.5 L1376.9,406.7 L1380.0,406.0 L1383.1,405.3 L1386.2,404.7 L1389.2,404.1 L1392.3,403.5 L1395.4,402.9 L1398.5,402.3 L1401.5,401.7" stroke="#1E78FF" stroke-width="8.0"/>
<path d="M1401.5,401.7 L1404.6,401.1 L1407.7,400.5 L1410.8,399.9 L1413.8,399.3 L1416.9,398.7 L1420.0,398.0 L1423.1,397.3 L1426.2,396.6 L1429.4,395.8 L1432.5,395.0 L1435.7,394.3 L1438.9,393.5" stroke="#1E78FF" stroke-width="8.5"/>
<path d="M1438.9,393.5 L1442.0,392.7 L1445.1,391.9 L1448.2,391.1 L1451.2,390.3 L1454.2,389.5 L1457.2,388.7 L1460.0,388.0 L1463.4,387.1 L1466.9,386.2 L1470.4,385.2 L1473.9,384.3 L1477.3,383.3 L1480.6,382.4 L1483.7,381.6 L1486.6,380.8 L1489.1,380.1 L1491.3,379.5 L1493.0,379.0" stroke="#1E78FF" stroke-width="9.0"/>
<path d="M336.0,435.5 L337.6,435.5 L339.4,435.4 L341.4,435.3 L343.5,435.3 L345.8,435.2 L348.3,435.1 L350.9,435.1 L353.6,435.0 L356.5,434.9 L359.5,434.8 L362.5,434.7 L365.7,434.6 L368.9,434.5 L372.2,434.4" stroke="#1EC400" stroke-width="8.5"/>
<path d="M372.2,434.4 L375.6,434.4 L379.0,434.3 L382.5,434.2 L386.0,434.1 L389.5,434.0 L393.0,433.9 L396.5,433.8 L400.0,433.7 L403.4,433.6 L406.8,433.5 L410.2,433.4 L413.6,433.3 L416.8,433.3 L420.0,433.2 L423.0,433.1 L426.0,433.1 L429.0,433.0 L432.1,433.0 L435.3,432.9 L438.4,432.8 L441.6,432.8 L444.8,432.7 L448.1,432.7 L451.3,432.6 L454.6,432.6 L457.9,432.5 L461.1,432.5 L464.4,432.4 L467.6,432.4 L470.9,432.3 L474.1,432.3 L477.3,432.2 L480.4,432.2 L483.6,432.1 L486.6,432.1 L489.7,432.0 L492.7,432.0 L495.6,431.9 L498.5,431.9 L501.4,431.8 L504.1,431.8 L506.8,431.7 L509.5,431.7 L512.0,431.6 L515.8,431.5 L519.3,431.4 L522.5,431.3 L525.5,431.2 L528.4,431.1 L531.1,431.1 L533.6,431.0 L536.2,430.9 L538.6,430.8 L541.1,430.7 L543.7,430.6 L546.3,430.5 L549.0,430.4 L551.9,430.3 L555.0,430.3 L558.3,430.2 L561.9,430.1 L565.8,430.1 L570.0,430.0 L572.4,430.0 L574.9,430.0 L577.5,429.9 L580.2,429.9 L582.9,429.9 L585.8,429.9 L588.7,429.9 L591.7,429.9 L594.8,429.9 L597.9,429.8 L601.1,429.8 L604.3,429.8 L607.6,429.8 L610.9,429.8 L614.2,429.8 L617.5,429.8 L620.9,429.8 L624.2,429.8" stroke="#1EC400" stroke-width="8.0"/>
<path d="M624.2,429.8 L627.6,429.8 L631.0,429.8 L634.4,429.8 L637.7,429.8 L641.1,429.8 L644.4,429.8 L647.7,429.8 L650.9,429.8 L654.1,429.8 L657.2,429.8 L660.3,429.8 L663.4,429.8 L666.4,429.7 L669.2,429.7 L672.1,429.7 L674.8,429.7 L677.5,429.6 L680.0,429.6 L683.9,429.5 L687.7,429.5 L691.4,429.4 L695.1,429.3" stroke="#1EC400" stroke-width="7.5"/>
<path d="M695.1,429.3 L698.7,429.2 L702.2,429.1 L705.7,429.1 L709.1,429.0 L712.4,428.9 L715.6,428.7 L718.8,428.6 L721.8,428.5" stroke="#1EC400" stroke-width="8.0"/>
<path d="M721.8,428.5 L724.8,428.4 L727.7,428.3 L730.6,428.2 L733.3,428.1 L736.0,428.0 L738.5,427.9 L741.0,427.8" stroke="#1EC400" stroke-width="8.5"/>
<path d="M741.0,427.8 L743.4,427.7 L745.7,427.6 L747.9,427.6 L750.0,427.5 L755.2,427.3 L759.2,427.2 L762.4,427.1 L764.9,427.0 L767.1,426.8 L769.3,426.7 L771.8,426.6 L775.0,426.5 L777.9,426.4 L781.1,426.3 L784.3,426.1 L787.6,426.0 L791.0,425.9" stroke="#1EC400" stroke-width="9.0"/>
<path d="M791.0,425.9 L794.4,425.8 L797.7,425.6 L800.9,425.5 L804.1,425.3 L807.0,425.2 L810.5,425.0 L813.9,424.8 L817.2,424.6 L820.4,424.4 L823.4,424.2 L826.4,424.0 L829.3,423.7 L832.0,423.5 L835.4,423.2 L838.4,422.9 L841.2,422.6" stroke="#1EC400" stroke-width="9.5"/>
<path d="M841.2,422.6 L844.0,422.2 L846.8,421.9 L850.0,421.5 L853.0,421.2 L856.3,420.9 L859.7,420.6 L863.1,420.2" stroke="#1EC400" stroke-width="9.0"/>
<path d="M863.1,420.2 L866.3,419.9 L869.3,419.5 L872.0,419.0 L875.7,418.1 L878.7,417.0" stroke="#1EC400" stroke-width="9.5"/>
<path d="M878.7,417.0 L881.3,415.8 L884.0,414.5 L886.9,413.0" stroke="#1EC400" stroke-width="10.0"/>
<path d="M886.9,413.0 L889.7,411.2 L892.5,409.4" stroke="#1EC400" stroke-width="10.5"/>
<path d="M892.5,409.4 L895.4,407.5 L898.3,405.5 L901.2,403.3 L904.1,401.2 L907.0,399.0 L909.7,396.9 L912.4,394.9 L915.1,392.8 L918.0,390.5 L920.6,388.3 L923.4,385.9 L926.2,383.5" stroke="#1EC400" stroke-width="11.0"/>
<path d="M926.2,383.5 L928.9,381.1 L931.4,379.0 L933.9,377.0 L936.1,375.4 L938.3,373.7 L941.0,371.5 L942.9,369.8 L945.1,367.9 L947.4,365.8" stroke="#1EC400" stroke-width="10.5"/>
<path d="M947.4,365.8 L949.8,363.6 L952.2,361.5 L954.5,359.4 L956.7,357.5 L959.4,355.2 L961.9,353.1 L964.4,351.1" stroke="#1EC400" stroke-width="11.0"/>
<path d="M964.4,351.1 L967.0,349.0 L970.0,346.5 L972.1,344.7 L974.3,342.8 L976.7,340.8 L979.1,338.7" stroke="#1EC400" stroke-width="11.5"/>
<path d="M979.1,338.7 L981.6,336.6 L984.0,334.5 L986.5,332.4 L988.9,330.5 L991.6,328.4 L994.3,326.3 L997.0,324.2 L999.8,322.2" stroke="#1EC400" stroke-width="11.0"/>
<path d="M999.8,322.2 L1002.5,320.2 L1005.2,318.4 L1007.9,316.6 L1010.6,314.9 L1013.4,313.3 L1016.2,311.7" stroke="#1EC400" stroke-width="11.5"/>
<path d="M1016.2,311.7 L1019.0,310.2 L1021.7,308.8 L1024.3,307.6 L1026.8,306.5 L1030.1,305.2 L1033.2,304.2 L1036.1,303.4 L1039.0,302.9 L1041.9,302.7 L1045.5,303.0 L1049.0,303.8 L1052.4,305.0 L1055.8,306.5 L1058.4,307.9 L1061.1,309.5 L1063.6,311.3" stroke="#1EC400" stroke-width="12.0"/>
<path d="M1063.6,311.3 L1066.1,313.2 L1068.4,315.3 L1070.6,317.6 L1072.7,320.0" stroke="#1EC400" stroke-width="11.5"/>
<path d="M1072.7,320.0 L1074.7,322.6 L1076.6,325.2 L1078.5,328.0 L1080.4,330.9 L1082.2,333.9 L1083.9,336.9 L1085.6,340.0 L1087.4,343.1 L1089.1,346.1 L1090.9,349.1 L1092.6,352.2 L1094.4,355.2 L1096.2,358.2 L1097.8,360.7 L1099.5,363.3 L1101.2,365.9 L1102.9,368.4 L1104.6,370.9 L1106.3,373.4 L1108.3,376.3 L1110.3,379.2 L1112.3,382.0 L1114.3,384.7 L1116.4,387.3 L1118.6,389.8 L1120.8,392.1 L1123.0,394.4 L1125.3,396.5 L1127.7,398.6 L1130.1,400.6 L1132.6,402.4 L1135.2,404.2 L1137.8,405.8 L1140.3,407.4 L1143.4,409.3 L1146.4,411.0 L1149.5,412.5 L1153.0,413.8 L1156.1,414.6 L1159.3,415.3 L1162.8,415.8 L1166.3,416.2 L1170.0,416.5 L1173.2,416.6 L1176.6,416.7 L1180.1,416.6" stroke="#1EC400" stroke-width="11.0"/>
<path d="M1180.1,416.6 L1183.6,416.5 L1186.9,416.3 L1190.0,416.0 L1193.4,415.6 L1196.5,415.1" stroke="#1EC400" stroke-width="10.5"/>
<path d="M1196.5,415.1 L1199.5,414.6 L1202.5,413.9 L1205.5,413.0 L1208.6,411.9 L1211.8,410.7 L1215.0,409.3 L1218.0,407.9 L1220.7,406.5 L1223.7,404.8 L1226.4,403.0 L1228.8,401.3 L1231.0,400.0 L1234.4,398.3" stroke="#1EC400" stroke-width="10.0"/>
<path d="M1234.4,398.3 L1237.3,398.0 L1240.7,399.9" stroke="#1EC400" stroke-width="10.5"/>
<path d="M1240.7,399.9 L1244.0,403.0 L1246.0,405.4 L1248.0,408.0 L1250.0,410.3 L1252.9,412.8 L1256.2,414.7 L1258.9,415.7 L1262.0,416.5 L1265.7,417.2 L1268.2,417.5 L1270.8,417.7 L1273.8,417.9 L1277.2,418.1 L1281.2,418.3 L1283.8,418.4 L1286.7,418.6 L1289.8,418.7 L1293.0,418.9 L1296.4,419.0 L1299.8,419.1 L1303.3,419.2 L1306.7,419.3 L1310.0,419.3 L1313.0,419.3 L1316.1,419.2 L1319.2,419.2 L1322.4,419.1 L1325.5,418.9 L1328.6,418.8 L1331.7,418.7 L1334.6,418.5 L1337.4,418.4 L1340.0,418.2 L1343.9,417.9 L1347.5,417.6 L1350.7,417.2 L1353.8,416.8 L1356.9,416.5 L1360.2,416.2 L1363.6,416.0 L1366.9,415.8 L1370.3,415.7 L1373.7,415.6 L1377.0,415.4 L1380.4,415.2 L1383.8,414.9 L1387.1,414.6 L1390.5,414.3 L1393.9,413.9 L1397.2,413.6 L1400.6,413.2 L1404.0,412.9 L1407.3,412.5 L1410.7,412.2 L1414.1,411.8 L1417.4,411.4 L1420.8,411.1 L1424.2,410.8 L1427.5,410.5 L1430.9,410.2 L1434.3,409.9 L1437.6,409.5 L1441.0,409.1 L1444.4,408.6 L1447.7,408.0 L1451.1,407.4 L1454.4,406.7 L1457.7,405.9 L1461.1,405.1 L1464.0,404.3 L1467.1,403.5 L1470.1,402.6 L1473.1,401.6 L1476.0,400.7 L1478.8,399.8 L1481.3,399.0 L1485.4,397.6 L1489.2,396.1 L1492.3,394.9 L1494.5,394.0" stroke="#1EC400" stroke-width="10.0"/>
<path d="M1230.0,403.0 L1233.1,403.3" stroke="#1EC400" stroke-width="10.0"/>
<path d="M1233.1,403.3 L1237.8,402.0 L1239.7,400.5 L1241.8,398.6 L1244.0,396.3 L1246.3,393.8 L1248.7,391.1 L1251.0,388.5 L1252.9,386.2 L1254.9,383.8 L1256.9,381.3 L1258.9,378.7 L1260.9,376.1 L1262.9,373.5 L1265.0,371.0 L1267.1,368.5 L1269.2,366.1 L1271.4,363.6 L1273.5,361.1 L1275.7,358.7 L1277.8,356.3 L1280.0,354.0 L1282.1,351.7 L1284.3,349.4 L1286.4,347.1 L1288.6,344.9" stroke="#1EC400" stroke-width="11.0"/>
<path d="M1288.6,344.9 L1290.7,342.7 L1292.9,340.7 L1295.0,338.7 L1297.5,336.6 L1300.1,334.5 L1302.7,332.6" stroke="#1EC400" stroke-width="11.5"/>
<path d="M1302.7,332.6 L1305.2,330.8 L1307.7,329.1 L1310.0,327.5 L1313.2,325.2" stroke="#1EC400" stroke-width="12.0"/>
<path d="M1313.2,325.2 L1316.2,323.1 L1319.1,321.1" stroke="#1EC400" stroke-width="13.0"/>
<path d="M1319.1,321.1 L1322.0,319.5" stroke="#1EC400" stroke-width="14.0"/>
<path d="M1322.0,319.5 L1325.1,318.1" stroke="#1EC400" stroke-width="14.5"/>
<path d="M1325.1,318.1 L1328.2,316.8" stroke="#1EC400" stroke-width="15.0"/>
<path d="M1328.2,316.8 L1331.2,315.9" stroke="#1EC400" stroke-width="15.5"/>
<path d="M1331.2,315.9 L1334.0,315.5" stroke="#1EC400" stroke-width="16.0"/>
<path d="M1334.0,315.5 L1337.3,315.6 L1340.3,316.5 L1343.0,318.5 L1344.9,320.9" stroke="#1EC400" stroke-width="16.5"/>
<path d="M1344.9,320.9 L1346.7,324.0 L1348.4,327.5" stroke="#1EC400" stroke-width="16.0"/>
<path d="M1348.4,327.5 L1350.1,331.0 L1351.6,333.7 L1353.0,336.4 L1354.5,339.2 L1355.9,342.2 L1357.2,345.5 L1358.2,348.5 L1359.1,351.8 L1360.0,355.2" stroke="#1EC400" stroke-width="15.5"/>
<path d="M1360.0,355.2 L1360.8,358.8 L1361.5,362.3 L1362.2,365.7 L1362.8,369.1 L1363.3,372.6" stroke="#1EC400" stroke-width="15.0"/>
<path d="M1363.3,372.6 L1363.8,376.1 L1364.3,379.5" stroke="#1EC400" stroke-width="14.5"/>
<path d="M1364.3,379.5 L1364.7,382.8 L1365.2,385.9 L1365.8,389.4" stroke="#1EC400" stroke-width="14.0"/>
<path d="M1365.8,389.4 L1366.2,392.7" stroke="#1EC400" stroke-width="13.5"/>
<path d="M1366.2,392.7 L1366.8,395.9" stroke="#1EC400" stroke-width="13.0"/>
<path d="M1366.8,395.9 L1367.4,398.6" stroke="#1EC400" stroke-width="12.5"/>
<path d="M1367.4,398.6 L1368.3,401.0 L1370.0,403.9" stroke="#1EC400" stroke-width="12.0"/>
<path d="M1370.0,403.9 L1372.2,405.8" stroke="#1EC400" stroke-width="11.5"/>
<path d="M1372.2,405.8 L1375.3,407.1 L1377.7,407.7" stroke="#1EC400" stroke-width="11.0"/>
<path d="M1377.7,407.7 L1380.5,408.0 L1383.7,408.1 L1387.0,408.1" stroke="#1EC400" stroke-width="10.5"/>
<path d="M1387.0,408.1 L1390.5,408.1 L1393.6,408.1 L1396.9,408.0 L1400.3,407.9 L1403.8,407.7 L1407.3,407.4 L1410.7,407.1 L1414.1,406.7 L1417.4,406.3 L1420.8,405.7 L1424.2,405.2 L1427.5,404.6 L1430.9,404.1 L1434.3,403.6 L1437.6,403.1 L1441.0,402.6 L1444.3,402.0 L1447.6,401.5 L1451.0,401.0 L1454.4,400.5 L1457.9,400.0 L1461.4,399.5 L1464.8,399.0 L1468.1,398.5 L1471.2,398.0 L1474.7,397.4 L1478.0,396.8 L1481.1,396.1 L1483.9,395.5 L1486.4,395.0 L1491.4,393.8 L1494.5,393.0" stroke="#1EC400" stroke-width="10.0"/>
<path d="M1230.0,407.0 L1228.6,409.2 L1226.7,412.3 L1224.3,415.6 L1221.5,418.0 L1219.0,419.2 L1216.3,420.0 L1213.2,420.5 L1209.8,420.8 L1206.0,421.0 L1203.3,421.1 L1200.4,421.0 L1197.3,420.8 L1194.1,420.6 L1190.8,420.4 L1187.5,420.2 L1184.2,420.1 L1181.0,420.0 L1177.9,420.0 L1174.7,420.2 L1171.5,420.3 L1168.3,420.5 L1165.2,420.7 L1162.0,420.8 L1159.0,421.0 L1156.0,421.0 L1152.7,420.9 L1149.6,420.8 L1146.5,420.6 L1143.5,420.4 L1140.4,420.2 L1137.3,420.0 L1134.0,420.0 L1131.0,420.0 L1127.8,420.1 L1124.5,420.2 L1121.2,420.3 L1117.9,420.4 L1114.7,420.7 L1111.7,420.9 L1108.8,421.3 L1105.2,421.9 L1101.8,422.6 L1098.6,423.5 L1095.5,424.4 L1092.6,425.4 L1089.9,426.4 L1086.3,428.2 L1083.2,430.1 L1080.3,432.2 L1077.3,434.0 L1074.1,435.6 L1070.8,437.1 L1067.7,438.6 L1064.6,440.0 L1061.8,441.3 L1059.1,442.4 L1056.4,443.7 L1053.6,445.6 L1051.4,447.6 L1049.3,449.8 L1047.0,452.3" stroke="#1EC400" stroke-width="10.0"/>
<path d="M1047.0,452.3 L1044.4,455.1 L1041.0,458.0 L1039.0,459.6 L1036.7,461.4 L1034.1,463.2 L1031.5,465.2 L1028.7,467.1 L1026.0,469.1 L1023.2,471.0 L1020.6,472.8 L1018.0,474.5 L1015.7,476.0 L1012.7,477.9 L1009.8,479.6 L1007.1,481.1" stroke="#1EC400" stroke-width="10.5"/>
<path d="M1007.1,481.1 L1004.6,482.5 L1002.0,483.7 L999.4,484.9 L996.8,486.0 L993.6,487.2 L990.3,488.4 L987.0,489.4" stroke="#1EC400" stroke-width="11.0"/>
<path d="M987.0,489.4 L983.8,490.2 L980.8,490.7 L978.0,491.0 L974.3,490.6 L970.9,489.5" stroke="#1EC400" stroke-width="11.5"/>
<path d="M970.9,489.5 L967.9,488.2 L965.2,487.0 L960.7,485.8 L956.9,483.6 L954.9,481.1 L952.9,478.0 L950.9,474.5 L949.0,471.1 L947.6,468.4 L946.2,465.6 L944.9,462.7 L943.5,460.0 L942.2,457.5 L940.7,454.6" stroke="#1EC400" stroke-width="12.0"/>
<path d="M940.7,454.6 L939.3,451.9 L937.7,449.5" stroke="#1EC400" stroke-width="11.5"/>
<path d="M937.7,449.5 L935.4,447.3 L933.0,445.9 L930.2,444.6 L927.1,443.6 L923.8,442.6 L920.6,441.6 L917.4,440.6 L914.2,439.7 L910.9,438.8 L907.4,437.9 L903.6,437.0 L900.6,436.3 L897.5,435.6 L894.2,434.9 L890.9,434.2 L887.5,433.6 L884.1,433.0 L880.8,432.5 L877.7,432.1 L874.6,431.8 L871.7,431.6 L868.6,431.4 L865.4,431.2 L861.9,431.0 L858.1,430.8 L855.3,430.6 L852.3,430.5 L849.0,430.3 L845.5,430.1 L842.0,429.9 L838.5,429.8 L835.1,429.6 L831.9,429.4 L828.9,429.3 L826.3,429.2 L824.1,429.1 L819.1,428.9" stroke="#1EC400" stroke-width="11.0"/>
<path d="M819.1,428.9 L817.0,428.9" stroke="#1EC400" stroke-width="10.5"/>
<path d="M817.0,428.9 L815.0,429.1 L811.4,429.5 L808.0,430.5 L805.4,431.6 L802.7,433.1 L800.0,435.0 L797.5,437.0 L795.0,439.4 L792.0,443.0 L790.4,445.2 L788.7,447.9 L786.8,450.9 L785.0,453.9 L783.1,456.9 L781.5,459.7 L780.0,462.0 L777.5,465.9 L775.5,468.8 L773.5,471.5 L771.4,473.9 L769.1,476.1 L766.0,479.3 L764.2,481.2 L762.2,483.3 L760.0,485.7 L757.7,488.2 L755.4,490.7 L753.0,493.1 L750.8,495.5 L748.6,497.8 L746.5,500.0 L744.3,502.3 L742.2,504.5 L740.0,506.7 L737.9,508.9 L735.7,511.0 L733.2,513.5 L730.7,515.9 L728.2,518.3 L725.6,520.7 L723.1,523.0 L720.6,525.3 L718.1,527.5 L715.5,529.7 L713.0,531.8 L710.5,533.9 L707.9,535.9 L705.4,538.0 L702.9,540.0 L700.4,542.1 L697.8,544.1 L695.3,546.1 L692.8,548.0 L690.3,550.0 L687.8,551.9 L685.2,553.9 L682.7,555.8 L680.2,557.6 L677.6,559.5 L675.1,561.4 L672.5,563.3 L669.9,565.3 L667.2,567.3" stroke="#1EC400" stroke-width="10.0"/>
<path d="M667.2,567.3 L664.7,569.2 L662.2,570.9 L660.0,572.5 L656.2,575.1" stroke="#1EC400" stroke-width="10.5"/>
<path d="M656.2,575.1 L652.9,577.2 L650.0,579.0 L646.6,581.0" stroke="#1EC400" stroke-width="11.0"/>
<path d="M646.6,581.0 L643.2,582.5 L640.1,583.8" stroke="#1EC400" stroke-width="12.0"/>
<path d="M640.1,583.8 L636.6,585.0" stroke="#1EC400" stroke-width="12.5"/>
<path d="M636.6,585.0 L633.1,585.6 L629.7,585.4 L626.4,584.7" stroke="#1EC400" stroke-width="13.0"/>
<path d="M626.4,584.7 L623.0,583.5 L619.5,582.1" stroke="#1EC400" stroke-width="13.5"/>
<path d="M619.5,582.1 L616.0,580.3 L612.9,577.5 L611.3,575.2" stroke="#1EC400" stroke-width="14.0"/>
<path d="M611.3,575.2 L609.8,572.5 L608.4,569.6 L607.1,566.5" stroke="#1EC400" stroke-width="14.5"/>
<path d="M607.1,566.5 L605.8,563.3 L604.7,560.6 L603.7,557.8 L602.7,554.9 L601.7,552.0 L600.7,549.1 L599.7,546.2 L598.7,543.3 L597.8,540.4 L596.8,537.5 L595.9,534.7 L594.8,531.8 L593.7,529.0 L592.5,526.3 L591.2,523.6 L589.8,520.9 L588.5,518.3 L587.0,515.6 L585.6,512.9 L584.1,510.1 L582.6,507.3 L581.1,504.5 L579.6,501.6 L578.0,498.7 L576.5,495.7 L575.2,493.1 L573.9,490.3" stroke="#1EC400" stroke-width="15.0"/>
<path d="M573.9,490.3 L572.6,487.6 L571.3,484.8 L570.0,482.0" stroke="#1EC400" stroke-width="14.5"/>
<path d="M570.0,482.0 L568.7,479.2 L567.4,476.5 L565.9,473.4 L564.4,470.2" stroke="#1EC400" stroke-width="14.0"/>
<path d="M564.4,470.2 L563.0,467.0 L561.5,464.0" stroke="#1EC400" stroke-width="13.5"/>
<path d="M561.5,464.0 L560.0,461.1 L558.4,458.4 L556.5,455.5" stroke="#1EC400" stroke-width="13.0"/>
<path d="M556.5,455.5 L554.6,452.8 L552.6,450.4 L550.5,448.1" stroke="#1EC400" stroke-width="12.5"/>
<path d="M550.5,448.1 L548.3,446.2 L545.3,444.2" stroke="#1EC400" stroke-width="12.0"/>
<path d="M545.3,444.2 L542.0,442.6 L538.6,441.3" stroke="#1EC400" stroke-width="11.5"/>
<path d="M538.6,441.3 L535.1,440.2 L532.6,439.5" stroke="#1EC400" stroke-width="11.0"/>
<path d="M532.6,439.5 L530.4,439.0 L527.9,438.7 L524.6,438.5" stroke="#1EC400" stroke-width="10.5"/>
<path d="M524.6,438.5 L520.0,438.2 L517.7,438.1 L515.2,438.0 L512.5,437.9" stroke="#1EC400" stroke-width="10.0"/>
<path d="M512.5,437.9 L509.5,437.9 L506.4,437.8 L503.2,437.8 L499.9,437.7 L496.5,437.7 L493.1,437.6 L489.7,437.6" stroke="#1EC400" stroke-width="9.5"/>
<path d="M489.7,437.6 L486.4,437.6 L483.1,437.5 L480.0,437.5 L476.9,437.5 L473.8,437.4 L470.8,437.4 L467.7,437.4 L464.6,437.4 L461.5,437.4 L458.5,437.4" stroke="#1EC400" stroke-width="9.0"/>
<path d="M458.5,437.4 L455.4,437.4 L452.3,437.4 L449.2,437.3 L446.2,437.3 L443.1,437.3 L440.0,437.3 L436.9,437.3 L433.8,437.3 L430.8,437.2 L427.7,437.2 L424.6,437.2 L421.5,437.2 L418.5,437.1 L415.4,437.1 L412.3,437.1 L409.2,437.1 L406.2,437.0 L403.1,437.0 L400.0,437.0 L396.9,437.0 L393.7,437.0 L390.4,437.0 L387.1,437.0 L383.8,437.0 L380.5,437.0 L377.3,436.9 L374.1,436.9 L371.0,437.0 L368.0,437.0 L365.2,437.0 L362.5,437.0 L360.0,437.0 L355.7,437.0 L351.8,437.1 L348.2,437.2 L344.9,437.3 L342.2,437.4 L339.8,437.5 L338.0,437.5" stroke="#1EC400" stroke-width="8.5"/>
</g>
<g stroke="#000" fill="none" stroke-width="3.8">
<rect x="252.1" y="22" width="1330.9" height="819.9"/>
<path d="M252,124.5h18 M252,227.0h18 M252,329.5h18 M252,432.0h18 M252,534.5h18 M252,637.0h18 M252,739.5h18 M429.1,842v-18 M606.8,842v-18 M784.5,842v-18 M962.1,842v-18 M1139.8,842v-18 M1317.4,842v-18 M1495.0,842v-18"/>
</g>
<rect x="287" y="35" width="302" height="382" fill="#fff" stroke="#000" stroke-width="3.6"/>
<g stroke-width="6.8" stroke-linecap="round">
<line x1="326" y1="67.0" x2="399" y2="67.0" stroke="#F01E02"/>
<line x1="326" y1="130.5" x2="399" y2="130.5" stroke="#5C6F6E"/>
<line x1="326" y1="194.0" x2="399" y2="194.0" stroke="#FF8000"/>
<line x1="326" y1="257.5" x2="399" y2="257.5" stroke="#1400FF"/>
<line x1="326" y1="321.0" x2="399" y2="321.0" stroke="#1E78FF"/>
<line x1="326" y1="384.5" x2="399" y2="384.5" stroke="#1EC400"/>
</g>
<g font-family="'Liberation Serif','Times New Roman',serif" font-size="50.5">
<text transform="translate(406,82.5) scale(1,1.02)">70mVs</text>
<text transform="translate(406,146.0) scale(1,1.02)">50mVs</text>
<text transform="translate(406,209.5) scale(1,1.02)">40mVs</text>
<text transform="translate(406,273.0) scale(1,1.02)">30mVs</text>
<text transform="translate(406,336.5) scale(1,1.02)">20mVs</text>
<text transform="translate(406,400.0) scale(1,1.02)">10mVs</text>
</g>
<g font-family="'Liberation Serif','Times New Roman',serif" font-size="61.5" text-anchor="end">
<text transform="translate(199.5,42.5) scale(1,1.075)">0.2</text>
<text transform="translate(199.5,145.0) scale(1,1.075)">0.15</text>
<text transform="translate(199.5,247.5) scale(1,1.075)">0.1</text>
<text transform="translate(199.5,350.0) scale(1,1.075)">0.05</text>
<text transform="translate(199.5,452.5) scale(1,1.075)">0</text>
<text transform="translate(199.5,555.0) scale(1,1.075)">-0.05</text>
<text transform="translate(199.5,657.5) scale(1,1.075)">-0.1</text>
<text transform="translate(199.5,760.0) scale(1,1.075)">-0.15</text>
<text transform="translate(199.5,862.5) scale(1,1.075)">-0.2</text>
</g>
<g font-family="'Liberation Serif','Times New Roman',serif" font-size="62.3" text-anchor="middle">
<text transform="translate(251.5,934.5) scale(1,1.06)">-0.6</text>
<text transform="translate(429.1,934.5) scale(1,1.06)">-0.4</text>
<text transform="translate(606.8,934.5) scale(1,1.06)">-0.2</text>
<text transform="translate(784.5,934.5) scale(1,1.06)">0</text>
<text transform="translate(962.1,934.5) scale(1,1.06)">0.2</text>
<text transform="translate(1139.8,934.5) scale(1,1.06)">0.4</text>
<text transform="translate(1317.4,934.5) scale(1,1.06)">0.6</text>
<text transform="translate(1495.0,934.5) scale(1,1.06)">0.8</text>
</g>
<text x="917" y="1002" font-family="'Liberation Serif','Times New Roman',serif" font-size="61.6" font-weight="bold" text-anchor="middle">Voltage (V)</text>
<text transform="translate(46.8,427) rotate(-90) scale(1,1.06)" font-family="'Liberation Serif','Times New Roman',serif" font-size="60.85" font-weight="bold" text-anchor="middle">Current Density (A/cm<tspan font-size="40" dy="-18">2</tspan><tspan dy="18">)</tspan></text>
<g font-family="Carlito,Calibri,'Liberation Sans',sans-serif" font-size="53.6" font-weight="bold">
<text x="872" y="313">A1</text>
<text x="1041" y="251.6">A2</text>
<text x="1203" y="242">A3</text>
<text x="1394" y="108">A4</text>
<text x="1177" y="506">A5</text>
<text x="857" y="715">C1</text>
<text x="389" y="792">C2</text>
</g>
<text x="1446" y="755.5" font-family="Carlito,Calibri,'Liberation Sans',sans-serif" font-size="107">a)</text>
<g stroke="#000" fill="none" stroke-width="3.6">
<rect x="252.8" y="1105.5" width="1302.2" height="843.3"/>
<path d="M252.8,1808.2h17 M252.8,1667.7h17 M252.8,1527.1h17 M252.8,1386.6h17 M252.8,1246.0h17 M415.5,1948.8v-17 M578.2,1948.8v-17 M740.9,1948.8v-17 M903.6,1948.8v-17 M1066.3,1948.8v-17 M1229.0,1948.8v-17 M1391.7,1948.8v-17"/>
</g>
<polyline points="415.4,1252.7 578.5,1382.2 741.6,1457.6 903.8,1501.2 1066.8,1557.7 1392.0,1599.7" fill="none" stroke="#1E78FF" stroke-width="5.5" stroke-linejoin="round"/>
<circle cx="415.4" cy="1252.7" r="10.8" fill="#000"/>
<circle cx="578.5" cy="1382.2" r="10.8" fill="#000"/>
<circle cx="741.6" cy="1457.6" r="10.8" fill="#000"/>
<circle cx="903.8" cy="1501.2" r="10.8" fill="#000"/>
<circle cx="1066.8" cy="1557.7" r="10.8" fill="#000"/>
<circle cx="1392.0" cy="1599.7" r="10.8" fill="#000"/>
<g font-family="'Liberation Serif','Times New Roman',serif" font-size="58.2" text-anchor="end">
<text transform="translate(203.5,1967.6) scale(1,1.063)">0</text>
<text transform="translate(203.5,1827.0) scale(1,1.063)">0.2</text>
<text transform="translate(203.5,1686.5) scale(1,1.063)">0.4</text>
<text transform="translate(203.5,1545.9) scale(1,1.063)">0.6</text>
<text transform="translate(203.5,1405.4) scale(1,1.063)">0.8</text>
<text transform="translate(203.5,1264.8) scale(1,1.063)">1</text>
<text transform="translate(203.5,1124.3) scale(1,1.063)">1.2</text>
</g>
<g font-family="'Liberation Serif','Times New Roman',serif" font-size="59.7" text-anchor="middle">
<text transform="translate(252.8,2037.5) scale(1,1.05)">0</text>
<text transform="translate(415.5,2037.5) scale(1,1.05)">10</text>
<text transform="translate(578.2,2037.5) scale(1,1.05)">20</text>
<text transform="translate(740.9,2037.5) scale(1,1.05)">30</text>
<text transform="translate(903.6,2037.5) scale(1,1.05)">40</text>
<text transform="translate(1066.3,2037.5) scale(1,1.05)">50</text>
<text transform="translate(1229.0,2037.5) scale(1,1.05)">60</text>
<text transform="translate(1391.7,2037.5) scale(1,1.05)">70</text>
<text transform="translate(1554.4,2037.5) scale(1,1.05)">80</text>
</g>
<text transform="translate(904.5,2112.5) scale(1,1.04)" font-family="'Liberation Serif','Times New Roman',serif" font-size="62.2" font-weight="bold" text-anchor="middle">Scan Rate (mV/s)</text>
<text transform="translate(86.7,1519.9) rotate(-90) scale(1,1.09)" font-family="'Liberation Serif','Times New Roman',serif" font-size="56.1" font-weight="bold" text-anchor="middle">Area-specific capacitance (F/cm<tspan font-size="37" dy="-17">2</tspan><tspan dy="17">)</tspan></text>
<text x="1417" y="1251.5" font-family="Carlito,Calibri,'Liberation Sans',sans-serif" font-size="102">b)</text>
</svg>
</body></html>
